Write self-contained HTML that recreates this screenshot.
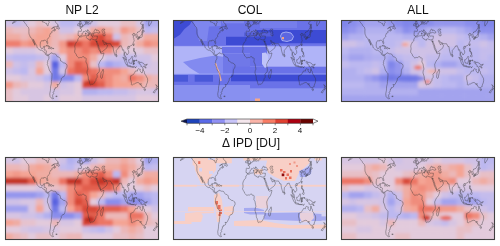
<!DOCTYPE html>
<html><head><meta charset="utf-8"><style>
html,body{margin:0;padding:0;background:#fff;}
body{width:500px;height:246px;position:relative;overflow:hidden;font-family:"Liberation Sans",sans-serif;color:#111;}
.t{position:absolute;width:200px;text-align:center;line-height:1;white-space:nowrap;will-change:transform;}
</style></head><body>
<svg width="500" height="246" viewBox="0 0 500 246" style="position:absolute;left:0;top:0">
<defs><path id="coast" d="M-166.0 -61.0 L-160.0 -58.8 L-157.5 -58.5 L-162.0 -55.5 L-163.5 -55.0 L-159.0 -56.0 L-155.0 -57.5 L-152.5 -59.0 L-151.0 -60.7 L-149.0 -61.0 L-146.0 -61.0 L-143.0 -60.0 L-140.0 -59.8 L-137.0 -58.8 L-135.5 -57.5 L-134.0 -56.0 L-132.0 -54.5 L-130.5 -53.5 L-129.5 -52.0 L-127.5 -50.5 L-125.0 -49.0 L-124.5 -47.5 L-124.0 -46.0 L-124.2 -43.0 L-124.0 -40.5 L-123.5 -39.0 L-122.5 -37.5 L-121.8 -36.5 L-120.6 -34.6 L-118.5 -34.0 L-117.2 -32.7 L-116.5 -31.5 L-115.7 -30.3 L-114.5 -28.0 L-112.5 -27.0 L-111.5 -25.0 L-110.0 -23.0 L-109.5 -23.5 L-110.5 -24.5 L-111.5 -26.5 L-112.8 -28.5 L-114.7 -31.7 L-113.0 -31.2 L-112.0 -29.5 L-110.5 -27.5 L-109.0 -26.0 L-107.5 -24.3 L-105.7 -22.5 L-105.2 -20.3 L-104.0 -19.0 L-102.0 -17.8 L-99.5 -16.6 L-96.5 -15.7 L-94.5 -16.2 L-92.5 -14.7 L-91.0 -13.9 L-89.0 -13.4 L-87.5 -13.0 L-86.0 -11.2 L-85.8 -10.0 L-84.5 -9.5 L-83.5 -8.5 L-82.0 -8.2 L-80.5 -7.4 L-80.0 -8.3 L-78.8 -8.6 L-78.0 -7.8 L-77.5 -6.8 L-77.3 -4.0 L-78.0 -2.6 L-79.0 -1.5 L-80.0 -0.5 L-80.3 1.0 L-80.9 2.5 L-80.3 3.5 L-81.2 5.0 L-80.0 6.5 L-79.0 8.0 L-77.5 11.0 L-76.3 13.5 L-74.5 15.5 L-72.0 17.0 L-70.3 18.5 L-70.2 21.0 L-70.5 24.0 L-70.8 27.0 L-71.5 30.0 L-71.6 33.0 L-72.6 35.5 L-73.4 37.5 L-73.6 40.0 L-73.8 43.0 L-74.6 45.5 L-75.4 48.0 L-75.0 50.5 L-74.3 52.5 L-72.5 53.8 L-70.5 54.6 L-68.0 55.5 L-66.5 55.0 L-68.5 53.0 L-68.4 51.0 L-69.2 50.2 L-67.6 48.5 L-65.8 47.5 L-67.5 46.0 L-66.5 45.0 L-65.2 44.7 L-65.0 42.8 L-64.2 42.4 L-65.0 41.0 L-62.3 40.6 L-62.2 38.9 L-60.0 38.8 L-57.5 38.0 L-56.7 36.5 L-57.3 35.3 L-58.5 34.3 L-56.0 34.9 L-54.0 34.5 L-53.0 33.5 L-51.0 31.0 L-49.8 29.5 L-48.5 28.0 L-48.5 26.0 L-47.0 24.5 L-44.5 23.2 L-42.0 22.9 L-41.0 21.8 L-40.0 20.0 L-39.2 17.5 L-38.9 14.0 L-38.5 12.8 L-37.0 11.0 L-35.2 9.0 L-34.8 7.0 L-35.5 5.2 L-37.5 4.5 L-39.5 3.0 L-41.5 2.9 L-44.0 2.5 L-47.0 0.7 L-50.0 0.0 L-51.0 -3.8 L-52.5 -5.0 L-54.0 -5.7 L-57.0 -6.0 L-58.5 -7.0 L-60.0 -8.5 L-61.6 -10.1 L-64.0 -10.5 L-67.0 -10.6 L-70.0 -11.5 L-71.5 -12.2 L-72.0 -11.2 L-74.0 -11.0 L-75.5 -10.5 L-76.5 -9.0 L-77.4 -8.6 L-79.0 -9.5 L-81.0 -8.9 L-82.3 -9.5 L-83.6 -10.9 L-83.5 -13.0 L-83.3 -15.0 L-85.0 -16.0 L-88.0 -15.8 L-88.4 -17.3 L-88.0 -18.6 L-87.5 -20.5 L-87.0 -21.5 L-88.5 -21.5 L-90.3 -21.0 L-90.5 -19.8 L-91.5 -18.5 L-94.0 -18.2 L-95.7 -18.8 L-97.0 -20.5 L-97.7 -22.0 L-97.7 -24.0 L-97.3 -26.0 L-97.2 -27.7 L-96.0 -28.7 L-94.5 -29.5 L-93.0 -29.7 L-91.0 -29.2 L-89.5 -29.3 L-89.5 -30.2 L-88.0 -30.4 L-86.0 -30.3 L-84.5 -29.8 L-83.2 -29.0 L-82.6 -27.5 L-81.7 -26.0 L-80.9 -25.2 L-80.1 -25.8 L-80.1 -27.0 L-80.6 -28.6 L-81.3 -30.3 L-81.2 -31.5 L-80.0 -32.6 L-78.5 -33.8 L-76.6 -34.8 L-75.5 -35.5 L-76.0 -36.9 L-75.6 -37.8 L-75.0 -38.6 L-74.3 -39.4 L-74.0 -40.5 L-72.5 -40.9 L-70.7 -41.5 L-69.9 -41.7 L-70.6 -42.5 L-70.8 -43.0 L-70.0 -43.8 L-68.0 -44.4 L-67.0 -44.8 L-66.1 -45.2 L-64.5 -45.4 L-65.8 -44.6 L-65.5 -43.6 L-63.5 -44.5 L-61.2 -45.4 L-61.5 -45.8 L-63.0 -45.8 L-64.5 -46.3 L-64.8 -47.5 L-65.3 -48.3 L-64.2 -48.7 L-66.0 -49.2 L-68.5 -48.9 L-71.0 -47.0 L-69.5 -47.5 L-67.0 -49.3 L-64.0 -50.2 L-60.0 -50.2 L-57.3 -51.5 L-55.8 -52.5 L-56.5 -53.7 L-58.0 -54.3 L-60.0 -55.3 L-61.5 -56.4 L-62.0 -57.5 L-63.2 -58.5 L-64.3 -59.6 L-64.8 -61.0 M-94.5 -61.0 L-94.7 -59.3 L-93.0 -58.3 L-92.3 -57.0 L-90.0 -57.0 L-88.0 -56.5 L-85.5 -55.3 L-82.5 -55.0 L-82.2 -53.0 L-80.5 -51.5 L-79.3 -51.6 L-78.8 -52.5 L-79.0 -54.3 L-77.3 -55.7 L-76.6 -56.6 L-77.5 -58.2 L-78.5 -58.8 L-77.4 -60.3 L-77.6 -61.0 M-59.3 -47.6 L-58.4 -49.1 L-57.2 -50.7 L-55.5 -51.6 L-55.7 -50.1 L-53.8 -49.5 L-53.1 -48.1 L-52.7 -47.4 L-53.5 -46.7 L-55.8 -47.0 L-57.3 -47.6 L-59.3 -47.6 M-84.9 -21.9 L-82.5 -22.9 L-80.5 -23.1 L-78.2 -22.3 L-75.7 -21.2 L-74.2 -20.2 L-75.5 -19.9 L-77.7 -19.9 L-77.3 -20.7 L-78.5 -21.5 L-81.0 -21.9 L-82.2 -22.2 L-83.5 -22.0 L-84.9 -21.9 M-74.4 -18.5 L-72.7 -19.9 L-70.5 -19.8 L-69.0 -19.0 L-68.4 -18.5 L-69.5 -18.2 L-71.2 -17.7 L-72.5 -18.2 L-74.4 -18.3 L-74.4 -18.5 M-78.3 -18.4 L-76.3 -18.2 L-76.9 -17.9 L-78.3 -18.2 L-78.3 -18.4 M-67.2 -18.5 L-65.6 -18.4 L-65.9 -18.0 L-67.2 -18.0 L-67.2 -18.5 M-5.6 -35.9 L-6.2 -35.5 L-6.8 -34.0 L-8.0 -33.3 L-9.6 -32.5 L-9.8 -30.0 L-10.5 -29.0 L-13.0 -27.7 L-14.5 -26.0 L-16.0 -24.0 L-16.9 -21.5 L-16.5 -19.5 L-16.2 -18.0 L-16.5 -16.0 L-17.4 -14.7 L-16.8 -13.2 L-16.7 -12.3 L-15.5 -11.5 L-14.6 -10.5 L-13.3 -9.4 L-12.5 -7.6 L-11.0 -6.8 L-9.0 -5.2 L-7.5 -4.4 L-5.0 -5.0 L-3.0 -5.1 L-2.0 -4.7 L0.0 -5.6 L1.5 -6.2 L3.0 -6.4 L4.5 -6.2 L5.5 -4.7 L6.5 -4.3 L7.5 -4.5 L8.5 -4.6 L9.5 -3.8 L9.8 -2.5 L9.5 -1.0 L9.3 0.5 L9.0 1.3 L10.5 3.0 L11.8 4.6 L12.2 6.0 L12.9 8.5 L13.5 10.5 L13.8 12.0 L12.6 13.5 L11.8 16.0 L11.7 17.5 L12.5 19.0 L13.5 21.0 L14.5 23.0 L14.8 26.0 L15.3 27.5 L16.5 28.7 L17.5 31.0 L18.3 32.5 L18.5 34.2 L20.0 34.8 L22.0 34.0 L25.0 34.0 L26.5 33.8 L28.0 32.8 L30.0 31.0 L31.0 29.5 L32.4 28.5 L32.9 26.0 L35.0 24.5 L35.5 23.0 L35.4 21.0 L34.8 19.9 L36.0 18.8 L37.0 17.5 L39.0 16.8 L40.5 15.0 L40.5 11.0 L39.5 8.5 L39.3 6.8 L39.0 5.0 L40.0 3.5 L41.0 2.0 L42.0 0.8 L44.0 -1.5 L46.0 -2.5 L48.0 -4.5 L49.5 -7.0 L50.8 -10.0 L51.3 -11.8 L49.0 -11.3 L47.0 -11.0 L45.0 -10.5 L43.5 -11.6 L43.2 -12.6 L42.5 -14.0 L41.5 -15.0 L40.0 -15.8 L39.0 -17.5 L38.5 -18.0 L37.3 -21.0 L36.8 -22.5 L35.5 -24.0 L35.0 -25.5 L34.0 -27.0 L33.0 -28.5 L32.5 -30.0 L32.5 -29.9 L33.5 -28.2 L34.3 -27.9 L34.8 -29.5 L35.0 -28.0 L36.5 -26.0 L37.5 -24.3 L39.0 -22.0 L39.5 -20.0 L41.0 -18.0 L42.5 -16.0 L43.0 -14.0 L43.5 -12.7 L45.0 -12.8 L48.0 -14.0 L50.0 -15.0 L52.0 -16.0 L55.0 -17.3 L56.8 -18.5 L57.8 -19.5 L58.5 -20.5 L59.8 -22.5 L58.8 -23.6 L57.0 -24.0 L56.3 -26.0 L55.5 -25.4 L54.0 -24.2 L52.0 -24.0 L51.5 -25.5 L51.0 -26.0 L50.0 -26.5 L49.5 -27.5 L48.5 -28.5 L48.0 -30.0 L49.0 -30.3 L50.5 -29.5 L51.5 -27.8 L54.0 -26.6 L56.3 -27.1 L57.5 -25.7 L61.0 -25.2 L64.0 -25.3 L66.5 -25.4 L67.5 -24.0 L68.5 -23.3 L70.0 -22.5 L69.0 -22.3 L70.5 -21.0 L72.5 -21.2 L72.8 -19.0 L73.5 -16.0 L74.5 -13.5 L75.5 -11.5 L76.3 -9.5 L77.5 -8.0 L78.2 -8.8 L79.2 -10.3 L79.8 -11.5 L80.2 -13.5 L80.2 -15.5 L81.2 -16.3 L82.3 -17.0 L84.0 -18.3 L85.5 -19.5 L87.0 -20.8 L87.0 -21.7 L88.5 -21.7 L90.0 -22.0 L91.5 -22.5 L92.3 -20.8 L93.8 -19.0 L94.5 -17.0 L94.2 -16.0 L95.5 -15.8 L97.5 -16.5 L97.8 -14.5 L98.5 -12.5 L98.5 -10.0 L98.3 -8.2 L100.3 -6.5 L100.5 -5.0 L101.3 -2.8 L103.4 -1.3 L104.2 -1.4 L103.5 -4.0 L103.3 -5.5 L102.2 -6.2 L100.8 -7.0 L100.3 -8.3 L99.2 -9.3 L99.3 -11.0 L100.0 -12.5 L100.9 -13.5 L102.0 -12.5 L103.0 -11.0 L104.5 -10.5 L105.0 -8.7 L106.5 -9.5 L107.5 -10.5 L109.0 -11.5 L109.3 -13.0 L108.8 -15.0 L107.0 -17.0 L106.0 -18.5 L106.5 -20.0 L107.5 -21.5 L109.5 -21.5 L110.5 -20.5 L111.0 -21.5 L113.5 -22.2 L114.5 -22.5 L116.5 -23.0 L118.5 -24.5 L119.5 -26.0 L120.0 -27.0 L121.5 -29.0 L122.0 -30.0 L121.0 -31.0 L121.8 -32.0 L120.5 -34.0 L119.3 -35.0 L120.5 -36.2 L122.5 -37.0 L122.3 -37.5 L120.8 -37.8 L119.0 -37.2 L118.0 -38.0 L117.7 -39.0 L119.0 -39.3 L121.3 -40.8 L122.0 -40.5 L121.3 -39.5 L122.0 -39.0 L124.0 -39.8 L125.0 -39.0 L125.3 -37.8 L126.5 -36.5 L126.3 -34.5 L127.5 -34.7 L129.3 -35.3 L129.5 -36.5 L128.5 -38.5 L127.5 -39.8 L129.7 -41.0 L129.8 -42.3 L131.0 -42.8 L133.0 -42.8 L135.5 -43.8 L137.0 -45.2 L138.5 -47.0 L140.3 -48.5 L140.5 -50.5 L141.3 -52.5 L139.5 -54.0 L137.5 -54.0 L136.8 -55.0 L137.5 -56.5 L140.5 -57.7 L142.0 -59.0 L145.0 -59.4 L148.5 -59.3 L151.3 -58.8 L154.0 -59.2 L155.0 -60.0 L155.5 -61.0 M155.7 -61.0 L156.6 -57.8 L156.0 -55.5 L155.6 -54.0 L156.7 -51.0 L158.5 -52.9 L160.0 -54.0 L162.0 -56.0 L163.3 -57.8 L162.0 -58.3 L163.5 -59.8 L166.0 -60.3 L170.0 -60.5 L172.0 -61.0 M-5.6 -36.0 L-6.3 -36.8 L-7.4 -37.2 L-8.9 -37.0 L-8.8 -38.5 L-9.5 -38.8 L-8.8 -41.0 L-8.8 -42.5 L-9.3 -43.0 L-8.0 -43.7 L-5.5 -43.5 L-3.0 -43.4 L-1.8 -43.4 L-1.2 -44.5 L-1.2 -46.0 L-2.2 -47.2 L-4.5 -47.9 L-4.5 -48.6 L-3.0 -48.8 L-1.6 -48.7 L-1.4 -49.7 L0.2 -49.5 L1.5 -50.2 L1.6 -51.0 L3.0 -51.3 L4.0 -51.9 L4.8 -53.0 L7.0 -53.5 L8.5 -53.8 L8.6 -55.0 L8.2 -56.8 L10.5 -57.6 L10.3 -56.5 L10.9 -56.3 L9.8 -55.0 L10.0 -54.5 L11.0 -54.0 L13.0 -54.3 L14.3 -53.8 L16.0 -54.3 L18.5 -54.7 L19.7 -54.4 L21.0 -55.0 L21.0 -56.5 L21.5 -57.3 L22.6 -57.7 L24.2 -57.2 L24.3 -58.3 L23.5 -58.8 L25.0 -59.5 L28.0 -59.5 L29.5 -60.0 L30.0 -61.0 M-5.6 -36.0 L-4.5 -36.7 L-2.0 -36.8 L-0.5 -37.6 L0.2 -38.8 L-0.3 -39.5 L0.9 -41.0 L3.2 -41.9 L3.1 -43.0 L4.5 -43.5 L6.0 -43.1 L7.5 -43.8 L8.8 -44.4 L10.2 -43.9 L10.5 -42.9 L11.2 -42.4 L12.5 -41.6 L13.7 -41.2 L15.5 -40.1 L16.0 -38.5 L15.6 -38.0 L16.1 -37.9 L17.1 -39.0 L16.5 -39.7 L17.2 -40.5 L18.5 -40.2 L18.4 -40.6 L17.0 -41.0 L16.0 -41.9 L15.0 -42.0 L14.0 -42.8 L13.6 -43.6 L12.4 -44.3 L12.3 -45.3 L13.1 -45.7 L13.9 -45.6 L13.6 -45.1 L14.5 -45.2 L15.0 -44.2 L16.5 -43.5 L18.5 -42.4 L19.3 -41.9 L19.5 -40.5 L20.0 -39.6 L21.0 -38.4 L21.7 -36.9 L22.5 -36.5 L23.0 -37.5 L22.7 -38.3 L24.0 -38.0 L23.0 -39.0 L22.6 -40.3 L24.0 -40.7 L26.0 -40.8 L26.5 -40.3 L26.2 -40.0 L26.5 -39.0 L27.0 -38.0 L27.5 -37.0 L28.4 -36.6 L30.0 -36.2 L31.5 -36.6 L33.0 -36.1 L34.8 -36.8 L36.0 -36.6 L35.8 -35.5 L35.9 -34.6 L35.5 -33.5 L35.0 -32.5 L34.5 -31.6 L34.3 -31.3 L32.3 -31.2 L30.0 -31.3 L29.0 -30.8 L25.0 -31.8 L23.0 -32.5 L20.0 -32.0 L19.5 -30.3 L18.0 -30.8 L15.5 -31.5 L15.0 -32.3 L12.0 -32.8 L11.0 -33.5 L10.2 -34.5 L11.0 -35.5 L10.2 -37.2 L9.0 -37.2 L7.0 -37.0 L5.0 -36.8 L3.0 -36.7 L1.0 -36.4 L-1.0 -35.5 L-2.0 -35.2 L-4.5 -35.2 L-5.6 -35.9 M26.5 -40.3 L29.0 -41.0 L31.0 -41.2 L33.0 -41.9 L35.0 -42.0 L36.5 -41.3 L38.0 -40.9 L40.0 -41.0 L41.5 -41.5 L41.7 -42.6 L40.0 -43.4 L38.0 -44.5 L37.5 -45.3 L35.0 -45.0 L33.5 -44.5 L32.5 -45.3 L33.5 -46.0 L31.0 -46.6 L30.7 -46.5 L29.7 -45.3 L28.7 -44.3 L28.0 -43.0 L27.8 -41.9 L28.8 -41.3 L29.0 -41.0 M47.0 -45.5 L46.7 -44.5 L47.5 -43.0 L48.5 -41.8 L49.5 -40.5 L49.0 -38.5 L49.0 -37.6 L50.5 -37.0 L53.8 -36.9 L53.9 -38.9 L53.0 -40.0 L52.8 -41.3 L54.0 -42.3 L52.5 -42.8 L51.3 -43.2 L50.3 -44.5 L51.3 -45.0 L53.0 -45.3 L53.0 -46.5 L51.2 -47.0 L49.5 -46.5 L48.0 -46.5 L47.0 -45.5 M5.0 -61.0 L5.3 -59.5 L6.0 -58.2 L7.5 -58.0 L9.0 -58.8 L10.5 -59.3 L11.2 -58.8 L11.9 -58.0 L12.5 -56.5 L12.9 -55.5 L14.2 -55.4 L14.8 -56.2 L16.0 -56.3 L16.5 -57.5 L16.8 -58.7 L18.5 -59.4 L18.0 -60.2 L17.5 -61.0 M-5.7 -50.0 L-3.5 -50.3 L0.0 -50.8 L1.4 -51.2 L1.7 -52.7 L0.3 -53.4 L-0.5 -54.5 L-1.5 -55.5 L-2.5 -56.0 L-1.8 -57.5 L-4.0 -57.7 L-3.0 -58.6 L-5.0 -58.6 L-6.0 -57.5 L-5.5 -56.5 L-6.0 -55.5 L-5.0 -54.8 L-3.3 -54.9 L-3.0 -53.9 L-3.0 -53.3 L-4.6 -53.3 L-4.2 -52.5 L-5.3 -51.8 L-3.3 -51.4 L-4.2 -51.2 L-5.7 -50.0 M-6.0 -52.2 L-6.0 -53.9 L-5.7 -54.8 L-7.3 -55.3 L-8.5 -54.6 L-10.0 -54.2 L-9.9 -53.0 L-10.3 -51.8 L-9.5 -51.5 L-8.0 -51.7 L-6.4 -52.2 L-6.0 -52.2 M12.4 -38.0 L15.6 -38.2 L15.1 -36.7 L12.4 -37.7 L12.4 -38.0 M8.2 -41.0 L9.6 -41.0 L9.6 -39.1 L8.5 -39.0 L8.2 -41.0 M23.5 -35.3 L26.3 -35.2 L24.0 -35.6 L23.5 -35.3 M130.9 -34.0 L132.0 -35.5 L133.0 -35.6 L135.5 -35.6 L136.0 -36.0 L137.0 -37.0 L138.5 -38.0 L139.8 -39.5 L140.0 -40.5 L141.3 -41.3 L141.5 -40.5 L142.0 -39.5 L141.0 -38.3 L140.9 -37.0 L140.6 -36.0 L140.9 -35.7 L139.8 -35.2 L139.2 -34.9 L138.8 -34.6 L137.0 -34.6 L136.8 -34.3 L135.8 -33.5 L135.2 -34.3 L133.5 -34.3 L131.0 -33.9 L130.9 -34.0 M130.0 -33.5 L131.7 -33.5 L131.5 -31.5 L130.7 -31.0 L130.2 -31.8 L129.7 -33.2 L130.0 -33.5 M132.5 -33.8 L134.7 -34.2 L134.2 -33.2 L133.0 -32.8 L132.5 -33.8 M140.0 -41.5 L140.5 -42.5 L140.0 -43.3 L141.5 -43.3 L141.7 -45.4 L143.0 -44.5 L145.3 -44.3 L145.5 -43.2 L144.0 -43.0 L143.3 -42.0 L141.5 -42.5 L140.9 -41.8 L140.0 -41.5 M142.0 -46.0 L143.5 -46.5 L142.9 -49.0 L144.0 -49.0 L143.3 -51.0 L143.0 -53.5 L142.5 -54.3 L142.0 -52.0 L141.8 -49.0 L142.0 -46.0 M120.1 -23.0 L120.8 -21.9 L121.7 -24.5 L121.5 -25.3 L120.1 -23.0 M108.7 -19.3 L110.4 -20.1 L111.0 -19.6 L109.6 -18.2 L108.7 -18.5 L108.7 -19.3 M120.6 -18.5 L122.2 -18.5 L122.3 -16.5 L121.6 -15.8 L122.0 -14.0 L124.0 -13.8 L124.0 -12.5 L123.2 -13.2 L121.8 -13.8 L120.6 -14.2 L120.9 -15.5 L120.3 -16.0 L120.6 -18.5 M122.0 -7.0 L123.5 -8.5 L125.5 -9.7 L126.5 -7.5 L126.0 -6.2 L125.3 -5.6 L124.0 -6.5 L122.0 -7.0 M124.3 -12.5 L125.8 -11.8 L125.0 -10.0 L124.3 -10.5 L124.3 -12.5 M109.0 -1.8 L109.6 -2.0 L111.0 -1.6 L113.0 -3.1 L115.5 -5.2 L116.7 -6.9 L117.6 -6.2 L119.2 -5.3 L118.0 -4.3 L117.7 -3.0 L118.9 -1.0 L117.9 -0.8 L117.5 0.5 L116.5 2.5 L116.0 3.6 L114.6 3.8 L113.0 3.1 L111.6 3.0 L110.2 2.9 L110.0 1.5 L109.2 0.5 L109.0 -1.8 M95.3 -5.6 L97.5 -5.2 L98.7 -3.8 L100.4 -2.2 L101.4 -1.8 L103.7 -0.2 L104.5 1.0 L106.0 3.0 L105.8 5.8 L104.5 5.9 L102.3 4.0 L101.0 2.2 L100.0 0.5 L98.7 -1.7 L97.3 -3.2 L96.2 -4.5 L95.3 -5.6 M105.2 6.8 L106.2 6.0 L108.3 6.3 L110.5 6.9 L112.6 6.9 L114.6 7.7 L114.4 8.7 L112.0 8.3 L110.0 8.0 L108.0 7.8 L106.4 7.4 L105.2 6.8 M115.0 8.3 L116.5 8.6 L119.0 8.5 L121.0 8.6 L123.0 8.4 L121.0 8.9 L118.0 8.9 L116.0 8.9 L115.0 8.3 M124.0 10.2 L125.2 9.0 L127.2 8.4 L125.0 9.7 L124.0 10.2 M119.5 5.5 L120.3 5.5 L120.4 2.9 L121.1 2.7 L121.5 4.6 L122.5 4.5 L122.8 3.6 L121.3 1.9 L121.9 1.0 L123.3 0.9 L122.4 0.7 L120.8 1.3 L120.2 -0.5 L120.9 -1.3 L123.0 -0.9 L124.4 -0.9 L125.2 -1.5 L124.5 -0.4 L121.5 -0.4 L120.1 -0.3 L119.6 0.2 L119.8 3.5 L119.5 5.5 M127.5 -1.8 L128.0 -0.5 L128.7 0.5 L127.8 0.0 L127.5 -1.8 M131.0 1.5 L132.5 0.4 L134.0 0.8 L135.0 3.3 L137.5 1.5 L141.0 2.6 L144.5 3.8 L146.0 5.5 L147.5 6.2 L147.2 7.4 L148.8 9.0 L150.0 10.3 L147.5 10.1 L146.0 8.1 L144.0 7.6 L142.6 9.3 L141.0 9.1 L139.0 8.2 L138.0 8.4 L137.8 6.0 L135.5 4.5 L133.5 4.0 L132.0 2.9 L131.0 1.5 M148.5 5.5 L150.5 5.5 L152.0 4.2 L152.2 5.5 L150.5 6.3 L148.5 5.8 L148.5 5.5 M113.5 22.0 L114.0 21.8 L114.2 22.5 L113.5 24.5 L113.5 26.5 L114.5 28.5 L115.0 30.5 L115.7 32.5 L115.0 34.3 L116.5 35.0 L118.0 35.0 L120.0 33.9 L122.0 33.8 L124.0 33.0 L126.0 32.3 L129.0 31.6 L131.0 31.5 L133.5 32.2 L135.0 33.5 L136.0 34.8 L137.5 33.2 L137.8 32.7 L137.7 35.5 L139.0 35.6 L140.0 37.5 L141.5 38.3 L143.5 38.8 L145.0 38.3 L146.3 39.0 L148.0 37.8 L150.0 37.5 L150.2 35.5 L151.2 33.8 L152.5 32.0 L153.5 28.5 L153.2 26.0 L152.8 25.0 L151.0 23.5 L150.2 22.3 L148.8 20.5 L146.5 19.0 L146.0 17.0 L145.3 15.0 L144.0 14.5 L143.5 12.8 L142.5 10.8 L141.8 12.5 L141.5 15.0 L140.8 17.4 L139.5 17.5 L137.8 16.0 L136.0 15.0 L135.5 14.5 L136.5 12.2 L135.0 12.2 L133.0 11.5 L131.5 11.3 L130.2 12.5 L129.5 14.8 L128.0 14.8 L126.5 14.0 L125.0 14.6 L123.5 16.5 L122.2 17.5 L121.8 18.6 L119.5 20.0 L117.5 20.6 L116.0 21.0 L114.5 21.8 L113.5 22.0 M144.7 40.7 L148.3 40.9 L148.0 43.0 L146.8 43.6 L145.3 42.3 L144.7 40.7 M172.7 34.5 L174.5 36.0 L175.8 37.0 L178.5 37.7 L177.9 39.2 L176.8 40.0 L175.2 41.6 L174.6 41.2 L175.0 39.8 L173.8 39.2 L174.6 37.5 L173.0 35.0 L172.7 34.5 M172.7 40.5 L174.3 41.3 L173.8 42.3 L172.8 43.3 L171.2 44.5 L170.7 45.9 L169.0 46.6 L166.5 46.0 L167.0 45.0 L168.3 44.0 L170.6 42.8 L171.5 41.7 L172.2 40.8 L172.7 40.5 M49.3 12.0 L50.5 15.5 L49.8 17.0 L48.5 20.5 L47.5 24.0 L47.0 25.0 L45.2 25.5 L44.0 24.5 L43.3 22.0 L44.3 20.5 L44.0 17.5 L46.0 15.8 L47.8 14.2 L48.8 12.5 L49.3 12.0 M79.8 -6.2 L80.3 -9.8 L81.8 -7.5 L81.3 -6.2 L80.1 -6.0 L79.8 -6.2 M-61.3 51.3 L-58.0 51.3 L-58.5 52.2 L-61.0 52.0 L-61.3 51.3" fill="none" stroke="#333" stroke-width="0.5" stroke-opacity="0.8" vector-effect="non-scaling-stroke" stroke-linejoin="round"/></defs>
<clipPath id="cA"><rect x="5" y="20" width="154" height="82"/></clipPath>
<g clip-path="url(#cA)"><g filter="url(#fA)">
<rect x="-2.70" y="13.17" width="8.30" height="7.43" fill="#cfc1e6"/>
<rect x="5.00" y="13.17" width="8.30" height="7.43" fill="#cfc1e6"/>
<rect x="12.70" y="13.17" width="8.30" height="7.43" fill="#c4bcec"/>
<rect x="20.40" y="13.17" width="8.30" height="7.43" fill="#cfc1e6"/>
<rect x="28.10" y="13.17" width="8.30" height="7.43" fill="#e2cadc"/>
<rect x="35.80" y="13.17" width="8.30" height="7.43" fill="#e7bfc6"/>
<rect x="43.50" y="13.17" width="8.30" height="7.43" fill="#e2cadc"/>
<rect x="51.20" y="13.17" width="8.30" height="7.43" fill="#d7c5e2"/>
<rect x="58.90" y="13.17" width="8.30" height="7.43" fill="#bcb8f0"/>
<rect x="66.60" y="13.17" width="8.30" height="7.43" fill="#bcb8f0"/>
<rect x="74.30" y="13.17" width="8.30" height="7.43" fill="#c4bcec"/>
<rect x="82.00" y="13.17" width="8.30" height="7.43" fill="#b2b0ef"/>
<rect x="89.70" y="13.17" width="8.30" height="7.43" fill="#cfc1e6"/>
<rect x="97.40" y="13.17" width="8.30" height="7.43" fill="#e2cadc"/>
<rect x="105.10" y="13.17" width="8.30" height="7.43" fill="#e2cadc"/>
<rect x="112.80" y="13.17" width="8.30" height="7.43" fill="#e2cadc"/>
<rect x="120.50" y="13.17" width="8.30" height="7.43" fill="#e7bfc6"/>
<rect x="128.20" y="13.17" width="8.30" height="7.43" fill="#e7bfc6"/>
<rect x="135.90" y="13.17" width="8.30" height="7.43" fill="#d7c5e2"/>
<rect x="143.60" y="13.17" width="8.30" height="7.43" fill="#a3a3ee"/>
<rect x="151.30" y="13.17" width="8.30" height="7.43" fill="#b2b0ef"/>
<rect x="159.00" y="13.17" width="8.30" height="7.43" fill="#b2b0ef"/>
<rect x="-2.70" y="20.00" width="8.30" height="7.43" fill="#cfc1e6"/>
<rect x="5.00" y="20.00" width="8.30" height="7.43" fill="#cfc1e6"/>
<rect x="12.70" y="20.00" width="8.30" height="7.43" fill="#c4bcec"/>
<rect x="20.40" y="20.00" width="8.30" height="7.43" fill="#cfc1e6"/>
<rect x="28.10" y="20.00" width="8.30" height="7.43" fill="#e2cadc"/>
<rect x="35.80" y="20.00" width="8.30" height="7.43" fill="#e7bfc6"/>
<rect x="43.50" y="20.00" width="8.30" height="7.43" fill="#e2cadc"/>
<rect x="51.20" y="20.00" width="8.30" height="7.43" fill="#d7c5e2"/>
<rect x="58.90" y="20.00" width="8.30" height="7.43" fill="#bcb8f0"/>
<rect x="66.60" y="20.00" width="8.30" height="7.43" fill="#bcb8f0"/>
<rect x="74.30" y="20.00" width="8.30" height="7.43" fill="#c4bcec"/>
<rect x="82.00" y="20.00" width="8.30" height="7.43" fill="#b2b0ef"/>
<rect x="89.70" y="20.00" width="8.30" height="7.43" fill="#cfc1e6"/>
<rect x="97.40" y="20.00" width="8.30" height="7.43" fill="#e2cadc"/>
<rect x="105.10" y="20.00" width="8.30" height="7.43" fill="#e2cadc"/>
<rect x="112.80" y="20.00" width="8.30" height="7.43" fill="#e2cadc"/>
<rect x="120.50" y="20.00" width="8.30" height="7.43" fill="#e7bfc6"/>
<rect x="128.20" y="20.00" width="8.30" height="7.43" fill="#e7bfc6"/>
<rect x="135.90" y="20.00" width="8.30" height="7.43" fill="#d7c5e2"/>
<rect x="143.60" y="20.00" width="8.30" height="7.43" fill="#a3a3ee"/>
<rect x="151.30" y="20.00" width="8.30" height="7.43" fill="#b2b0ef"/>
<rect x="159.00" y="20.00" width="8.30" height="7.43" fill="#b2b0ef"/>
<rect x="-2.70" y="26.83" width="8.30" height="7.43" fill="#ebb7b8"/>
<rect x="5.00" y="26.83" width="8.30" height="7.43" fill="#ebb7b8"/>
<rect x="12.70" y="26.83" width="8.30" height="7.43" fill="#e7bfc6"/>
<rect x="20.40" y="26.83" width="8.30" height="7.43" fill="#e7bfc6"/>
<rect x="28.10" y="26.83" width="8.30" height="7.43" fill="#ebb7b8"/>
<rect x="35.80" y="26.83" width="8.30" height="7.43" fill="#f0aca2"/>
<rect x="43.50" y="26.83" width="8.30" height="7.43" fill="#f4a494"/>
<rect x="51.20" y="26.83" width="8.30" height="7.43" fill="#ebb7b8"/>
<rect x="58.90" y="26.83" width="8.30" height="7.43" fill="#cfc1e6"/>
<rect x="66.60" y="26.83" width="8.30" height="7.43" fill="#cfc1e6"/>
<rect x="74.30" y="26.83" width="8.30" height="7.43" fill="#e2cadc"/>
<rect x="82.00" y="26.83" width="8.30" height="7.43" fill="#e2cadc"/>
<rect x="89.70" y="26.83" width="8.30" height="7.43" fill="#f0aca2"/>
<rect x="97.40" y="26.83" width="8.30" height="7.43" fill="#f29a8a"/>
<rect x="105.10" y="26.83" width="8.30" height="7.43" fill="#f0aca2"/>
<rect x="112.80" y="26.83" width="8.30" height="7.43" fill="#e7bfc6"/>
<rect x="120.50" y="26.83" width="8.30" height="7.43" fill="#f29a8a"/>
<rect x="128.20" y="26.83" width="8.30" height="7.43" fill="#f0aca2"/>
<rect x="135.90" y="26.83" width="8.30" height="7.43" fill="#e7bfc6"/>
<rect x="143.60" y="26.83" width="8.30" height="7.43" fill="#bcb8f0"/>
<rect x="151.30" y="26.83" width="8.30" height="7.43" fill="#c4bcec"/>
<rect x="159.00" y="26.83" width="8.30" height="7.43" fill="#c4bcec"/>
<rect x="-2.70" y="33.67" width="8.30" height="7.43" fill="#f0aca2"/>
<rect x="5.00" y="33.67" width="8.30" height="7.43" fill="#f0aca2"/>
<rect x="12.70" y="33.67" width="8.30" height="7.43" fill="#f0aca2"/>
<rect x="20.40" y="33.67" width="8.30" height="7.43" fill="#ebb7b8"/>
<rect x="28.10" y="33.67" width="8.30" height="7.43" fill="#f0aca2"/>
<rect x="35.80" y="33.67" width="8.30" height="7.43" fill="#f4a494"/>
<rect x="43.50" y="33.67" width="8.30" height="7.43" fill="#f4a494"/>
<rect x="51.20" y="33.67" width="8.30" height="7.43" fill="#ebb7b8"/>
<rect x="58.90" y="33.67" width="8.30" height="7.43" fill="#e7bfc6"/>
<rect x="66.60" y="33.67" width="8.30" height="7.43" fill="#ebb7b8"/>
<rect x="74.30" y="33.67" width="8.30" height="7.43" fill="#f4a494"/>
<rect x="82.00" y="33.67" width="8.30" height="7.43" fill="#f29a8a"/>
<rect x="89.70" y="33.67" width="8.30" height="7.43" fill="#e25e4e"/>
<rect x="97.40" y="33.67" width="8.30" height="7.43" fill="#d84838"/>
<rect x="105.10" y="33.67" width="8.30" height="7.43" fill="#ec7464"/>
<rect x="112.80" y="33.67" width="8.30" height="7.43" fill="#cfc1e6"/>
<rect x="120.50" y="33.67" width="8.30" height="7.43" fill="#ebb7b8"/>
<rect x="128.20" y="33.67" width="8.30" height="7.43" fill="#e7bfc6"/>
<rect x="135.90" y="33.67" width="8.30" height="7.43" fill="#e7bfc6"/>
<rect x="143.60" y="33.67" width="8.30" height="7.43" fill="#f0aca2"/>
<rect x="151.30" y="33.67" width="8.30" height="7.43" fill="#f0aca2"/>
<rect x="159.00" y="33.67" width="8.30" height="7.43" fill="#f0aca2"/>
<rect x="-2.70" y="40.50" width="8.30" height="7.43" fill="#ee7e6e"/>
<rect x="5.00" y="40.50" width="8.30" height="7.43" fill="#ee7e6e"/>
<rect x="12.70" y="40.50" width="8.30" height="7.43" fill="#ee7e6e"/>
<rect x="20.40" y="40.50" width="8.30" height="7.43" fill="#f29a8a"/>
<rect x="28.10" y="40.50" width="8.30" height="7.43" fill="#f08c7c"/>
<rect x="35.80" y="40.50" width="8.30" height="7.43" fill="#f4a494"/>
<rect x="43.50" y="40.50" width="8.30" height="7.43" fill="#f0aca2"/>
<rect x="51.20" y="40.50" width="8.30" height="7.43" fill="#ebb7b8"/>
<rect x="58.90" y="40.50" width="8.30" height="7.43" fill="#f29a8a"/>
<rect x="66.60" y="40.50" width="8.30" height="7.43" fill="#d04032"/>
<rect x="74.30" y="40.50" width="8.30" height="7.43" fill="#dc5141"/>
<rect x="82.00" y="40.50" width="8.30" height="7.43" fill="#ec7464"/>
<rect x="89.70" y="40.50" width="8.30" height="7.43" fill="#d84838"/>
<rect x="97.40" y="40.50" width="8.30" height="7.43" fill="#d04032"/>
<rect x="105.10" y="40.50" width="8.30" height="7.43" fill="#d04032"/>
<rect x="112.80" y="40.50" width="8.30" height="7.43" fill="#d84838"/>
<rect x="120.50" y="40.50" width="8.30" height="7.43" fill="#ebb7b8"/>
<rect x="128.20" y="40.50" width="8.30" height="7.43" fill="#e7bfc6"/>
<rect x="135.90" y="40.50" width="8.30" height="7.43" fill="#f0aca2"/>
<rect x="143.60" y="40.50" width="8.30" height="7.43" fill="#f08c7c"/>
<rect x="151.30" y="40.50" width="8.30" height="7.43" fill="#f29a8a"/>
<rect x="159.00" y="40.50" width="8.30" height="7.43" fill="#f29a8a"/>
<rect x="-2.70" y="47.33" width="8.30" height="7.43" fill="#e2cadc"/>
<rect x="5.00" y="47.33" width="8.30" height="7.43" fill="#e2cadc"/>
<rect x="12.70" y="47.33" width="8.30" height="7.43" fill="#d7c5e2"/>
<rect x="20.40" y="47.33" width="8.30" height="7.43" fill="#d7c5e2"/>
<rect x="28.10" y="47.33" width="8.30" height="7.43" fill="#d7c5e2"/>
<rect x="35.80" y="47.33" width="8.30" height="7.43" fill="#e2cadc"/>
<rect x="43.50" y="47.33" width="8.30" height="7.43" fill="#e7bfc6"/>
<rect x="51.20" y="47.33" width="8.30" height="7.43" fill="#e7bfc6"/>
<rect x="58.90" y="47.33" width="8.30" height="7.43" fill="#f4a494"/>
<rect x="66.60" y="47.33" width="8.30" height="7.43" fill="#f08c7c"/>
<rect x="74.30" y="47.33" width="8.30" height="7.43" fill="#f08c7c"/>
<rect x="82.00" y="47.33" width="8.30" height="7.43" fill="#ec7464"/>
<rect x="89.70" y="47.33" width="8.30" height="7.43" fill="#f08c7c"/>
<rect x="97.40" y="47.33" width="8.30" height="7.43" fill="#ee7e6e"/>
<rect x="105.10" y="47.33" width="8.30" height="7.43" fill="#f08c7c"/>
<rect x="112.80" y="47.33" width="8.30" height="7.43" fill="#ebb7b8"/>
<rect x="120.50" y="47.33" width="8.30" height="7.43" fill="#e2cadc"/>
<rect x="128.20" y="47.33" width="8.30" height="7.43" fill="#e2cadc"/>
<rect x="135.90" y="47.33" width="8.30" height="7.43" fill="#e2cadc"/>
<rect x="143.60" y="47.33" width="8.30" height="7.43" fill="#e7bfc6"/>
<rect x="151.30" y="47.33" width="8.30" height="7.43" fill="#e7bfc6"/>
<rect x="159.00" y="47.33" width="8.30" height="7.43" fill="#e7bfc6"/>
<rect x="-2.70" y="54.17" width="8.30" height="7.43" fill="#c4bcec"/>
<rect x="5.00" y="54.17" width="8.30" height="7.43" fill="#c4bcec"/>
<rect x="12.70" y="54.17" width="8.30" height="7.43" fill="#bcb8f0"/>
<rect x="20.40" y="54.17" width="8.30" height="7.43" fill="#bcb8f0"/>
<rect x="28.10" y="54.17" width="8.30" height="7.43" fill="#bcb8f0"/>
<rect x="35.80" y="54.17" width="8.30" height="7.43" fill="#c4bcec"/>
<rect x="43.50" y="54.17" width="8.30" height="7.43" fill="#cfc1e6"/>
<rect x="51.20" y="54.17" width="8.30" height="7.43" fill="#a3a3ee"/>
<rect x="58.90" y="54.17" width="8.30" height="7.43" fill="#e2cadc"/>
<rect x="66.60" y="54.17" width="8.30" height="7.43" fill="#f08c7c"/>
<rect x="74.30" y="54.17" width="8.30" height="7.43" fill="#f08c7c"/>
<rect x="82.00" y="54.17" width="8.30" height="7.43" fill="#f08c7c"/>
<rect x="89.70" y="54.17" width="8.30" height="7.43" fill="#f0aca2"/>
<rect x="97.40" y="54.17" width="8.30" height="7.43" fill="#e2cadc"/>
<rect x="105.10" y="54.17" width="8.30" height="7.43" fill="#cfc1e6"/>
<rect x="112.80" y="54.17" width="8.30" height="7.43" fill="#cfc1e6"/>
<rect x="120.50" y="54.17" width="8.30" height="7.43" fill="#c4bcec"/>
<rect x="128.20" y="54.17" width="8.30" height="7.43" fill="#c4bcec"/>
<rect x="135.90" y="54.17" width="8.30" height="7.43" fill="#cfc1e6"/>
<rect x="143.60" y="54.17" width="8.30" height="7.43" fill="#cfc1e6"/>
<rect x="151.30" y="54.17" width="8.30" height="7.43" fill="#e2cadc"/>
<rect x="159.00" y="54.17" width="8.30" height="7.43" fill="#e2cadc"/>
<rect x="-2.70" y="61.00" width="8.30" height="7.43" fill="#ebb7b8"/>
<rect x="5.00" y="61.00" width="8.30" height="7.43" fill="#ebb7b8"/>
<rect x="12.70" y="61.00" width="8.30" height="7.43" fill="#cfc1e6"/>
<rect x="20.40" y="61.00" width="8.30" height="7.43" fill="#c4bcec"/>
<rect x="28.10" y="61.00" width="8.30" height="7.43" fill="#cfc1e6"/>
<rect x="35.80" y="61.00" width="8.30" height="7.43" fill="#ebb7b8"/>
<rect x="43.50" y="61.00" width="8.30" height="7.43" fill="#e2cadc"/>
<rect x="51.20" y="61.00" width="8.30" height="7.43" fill="#5a64e0"/>
<rect x="58.90" y="61.00" width="8.30" height="7.43" fill="#bcb8f0"/>
<rect x="66.60" y="61.00" width="8.30" height="7.43" fill="#f08c7c"/>
<rect x="74.30" y="61.00" width="8.30" height="7.43" fill="#e25e4e"/>
<rect x="82.00" y="61.00" width="8.30" height="7.43" fill="#ec7464"/>
<rect x="89.70" y="61.00" width="8.30" height="7.43" fill="#e7bfc6"/>
<rect x="97.40" y="61.00" width="8.30" height="7.43" fill="#bcb8f0"/>
<rect x="105.10" y="61.00" width="8.30" height="7.43" fill="#a3a3ee"/>
<rect x="112.80" y="61.00" width="8.30" height="7.43" fill="#b2b0ef"/>
<rect x="120.50" y="61.00" width="8.30" height="7.43" fill="#bcb8f0"/>
<rect x="128.20" y="61.00" width="8.30" height="7.43" fill="#bcb8f0"/>
<rect x="135.90" y="61.00" width="8.30" height="7.43" fill="#bcb8f0"/>
<rect x="143.60" y="61.00" width="8.30" height="7.43" fill="#cfc1e6"/>
<rect x="151.30" y="61.00" width="8.30" height="7.43" fill="#d7c5e2"/>
<rect x="159.00" y="61.00" width="8.30" height="7.43" fill="#d7c5e2"/>
<rect x="-2.70" y="67.83" width="8.30" height="7.43" fill="#cfc1e6"/>
<rect x="5.00" y="67.83" width="8.30" height="7.43" fill="#cfc1e6"/>
<rect x="12.70" y="67.83" width="8.30" height="7.43" fill="#c4bcec"/>
<rect x="20.40" y="67.83" width="8.30" height="7.43" fill="#bcb8f0"/>
<rect x="28.10" y="67.83" width="8.30" height="7.43" fill="#d7c5e2"/>
<rect x="35.80" y="67.83" width="8.30" height="7.43" fill="#f4a494"/>
<rect x="43.50" y="67.83" width="8.30" height="7.43" fill="#e2cadc"/>
<rect x="51.20" y="67.83" width="8.30" height="7.43" fill="#7279e6"/>
<rect x="58.90" y="67.83" width="8.30" height="7.43" fill="#cfc1e6"/>
<rect x="66.60" y="67.83" width="8.30" height="7.43" fill="#ec7464"/>
<rect x="74.30" y="67.83" width="8.30" height="7.43" fill="#e25e4e"/>
<rect x="82.00" y="67.83" width="8.30" height="7.43" fill="#e25e4e"/>
<rect x="89.70" y="67.83" width="8.30" height="7.43" fill="#ec7464"/>
<rect x="97.40" y="67.83" width="8.30" height="7.43" fill="#f08c7c"/>
<rect x="105.10" y="67.83" width="8.30" height="7.43" fill="#f08c7c"/>
<rect x="112.80" y="67.83" width="8.30" height="7.43" fill="#f08c7c"/>
<rect x="120.50" y="67.83" width="8.30" height="7.43" fill="#f4a494"/>
<rect x="128.20" y="67.83" width="8.30" height="7.43" fill="#ebb7b8"/>
<rect x="135.90" y="67.83" width="8.30" height="7.43" fill="#e2cadc"/>
<rect x="143.60" y="67.83" width="8.30" height="7.43" fill="#d7c5e2"/>
<rect x="151.30" y="67.83" width="8.30" height="7.43" fill="#d7c5e2"/>
<rect x="159.00" y="67.83" width="8.30" height="7.43" fill="#d7c5e2"/>
<rect x="-2.70" y="74.67" width="8.30" height="7.43" fill="#e2cadc"/>
<rect x="5.00" y="74.67" width="8.30" height="7.43" fill="#e2cadc"/>
<rect x="12.70" y="74.67" width="8.30" height="7.43" fill="#e2cadc"/>
<rect x="20.40" y="74.67" width="8.30" height="7.43" fill="#d7c5e2"/>
<rect x="28.10" y="74.67" width="8.30" height="7.43" fill="#d7c5e2"/>
<rect x="35.80" y="74.67" width="8.30" height="7.43" fill="#cfc1e6"/>
<rect x="43.50" y="74.67" width="8.30" height="7.43" fill="#bcb8f0"/>
<rect x="51.20" y="74.67" width="8.30" height="7.43" fill="#7279e6"/>
<rect x="58.90" y="74.67" width="8.30" height="7.43" fill="#8a8eec"/>
<rect x="66.60" y="74.67" width="8.30" height="7.43" fill="#8a8eec"/>
<rect x="74.30" y="74.67" width="8.30" height="7.43" fill="#bcb8f0"/>
<rect x="82.00" y="74.67" width="8.30" height="7.43" fill="#f08c7c"/>
<rect x="89.70" y="74.67" width="8.30" height="7.43" fill="#e25e4e"/>
<rect x="97.40" y="74.67" width="8.30" height="7.43" fill="#ec7464"/>
<rect x="105.10" y="74.67" width="8.30" height="7.43" fill="#f08c7c"/>
<rect x="112.80" y="74.67" width="8.30" height="7.43" fill="#f4a494"/>
<rect x="120.50" y="74.67" width="8.30" height="7.43" fill="#f0aca2"/>
<rect x="128.20" y="74.67" width="8.30" height="7.43" fill="#ec7464"/>
<rect x="135.90" y="74.67" width="8.30" height="7.43" fill="#f08c7c"/>
<rect x="143.60" y="74.67" width="8.30" height="7.43" fill="#f0aca2"/>
<rect x="151.30" y="74.67" width="8.30" height="7.43" fill="#ebb7b8"/>
<rect x="159.00" y="74.67" width="8.30" height="7.43" fill="#ebb7b8"/>
<rect x="-2.70" y="81.50" width="8.30" height="7.43" fill="#f29a8a"/>
<rect x="5.00" y="81.50" width="8.30" height="7.43" fill="#f29a8a"/>
<rect x="12.70" y="81.50" width="8.30" height="7.43" fill="#ebb7b8"/>
<rect x="20.40" y="81.50" width="8.30" height="7.43" fill="#e7bfc6"/>
<rect x="28.10" y="81.50" width="8.30" height="7.43" fill="#e2cadc"/>
<rect x="35.80" y="81.50" width="8.30" height="7.43" fill="#e2cadc"/>
<rect x="43.50" y="81.50" width="8.30" height="7.43" fill="#d7c5e2"/>
<rect x="51.20" y="81.50" width="8.30" height="7.43" fill="#f0aca2"/>
<rect x="58.90" y="81.50" width="8.30" height="7.43" fill="#cfc1e6"/>
<rect x="66.60" y="81.50" width="8.30" height="7.43" fill="#d7c5e2"/>
<rect x="74.30" y="81.50" width="8.30" height="7.43" fill="#e2cadc"/>
<rect x="82.00" y="81.50" width="8.30" height="7.43" fill="#d84838"/>
<rect x="89.70" y="81.50" width="8.30" height="7.43" fill="#d84838"/>
<rect x="97.40" y="81.50" width="8.30" height="7.43" fill="#e25e4e"/>
<rect x="105.10" y="81.50" width="8.30" height="7.43" fill="#f08c7c"/>
<rect x="112.80" y="81.50" width="8.30" height="7.43" fill="#f4a494"/>
<rect x="120.50" y="81.50" width="8.30" height="7.43" fill="#f4a494"/>
<rect x="128.20" y="81.50" width="8.30" height="7.43" fill="#f4a494"/>
<rect x="135.90" y="81.50" width="8.30" height="7.43" fill="#f0aca2"/>
<rect x="143.60" y="81.50" width="8.30" height="7.43" fill="#ebb7b8"/>
<rect x="151.30" y="81.50" width="8.30" height="7.43" fill="#ebb7b8"/>
<rect x="159.00" y="81.50" width="8.30" height="7.43" fill="#ebb7b8"/>
<rect x="-2.70" y="88.33" width="8.30" height="7.43" fill="#e7bfc6"/>
<rect x="5.00" y="88.33" width="8.30" height="7.43" fill="#e7bfc6"/>
<rect x="12.70" y="88.33" width="8.30" height="7.43" fill="#e2cadc"/>
<rect x="20.40" y="88.33" width="8.30" height="7.43" fill="#d7c5e2"/>
<rect x="28.10" y="88.33" width="8.30" height="7.43" fill="#d7c5e2"/>
<rect x="35.80" y="88.33" width="8.30" height="7.43" fill="#d7c5e2"/>
<rect x="43.50" y="88.33" width="8.30" height="7.43" fill="#d7c5e2"/>
<rect x="51.20" y="88.33" width="8.30" height="7.43" fill="#cfc1e6"/>
<rect x="58.90" y="88.33" width="8.30" height="7.43" fill="#d7c5e2"/>
<rect x="66.60" y="88.33" width="8.30" height="7.43" fill="#d7c5e2"/>
<rect x="74.30" y="88.33" width="8.30" height="7.43" fill="#e2cadc"/>
<rect x="82.00" y="88.33" width="8.30" height="7.43" fill="#b2b0ef"/>
<rect x="89.70" y="88.33" width="8.30" height="7.43" fill="#b2b0ef"/>
<rect x="97.40" y="88.33" width="8.30" height="7.43" fill="#bcb8f0"/>
<rect x="105.10" y="88.33" width="8.30" height="7.43" fill="#bcb8f0"/>
<rect x="112.80" y="88.33" width="8.30" height="7.43" fill="#c4bcec"/>
<rect x="120.50" y="88.33" width="8.30" height="7.43" fill="#c4bcec"/>
<rect x="128.20" y="88.33" width="8.30" height="7.43" fill="#cfc1e6"/>
<rect x="135.90" y="88.33" width="8.30" height="7.43" fill="#d7c5e2"/>
<rect x="143.60" y="88.33" width="8.30" height="7.43" fill="#d7c5e2"/>
<rect x="151.30" y="88.33" width="8.30" height="7.43" fill="#cfc1e6"/>
<rect x="159.00" y="88.33" width="8.30" height="7.43" fill="#cfc1e6"/>
<rect x="-2.70" y="95.17" width="8.30" height="7.43" fill="#e7bfc6"/>
<rect x="5.00" y="95.17" width="8.30" height="7.43" fill="#e7bfc6"/>
<rect x="12.70" y="95.17" width="8.30" height="7.43" fill="#e2cadc"/>
<rect x="20.40" y="95.17" width="8.30" height="7.43" fill="#e2cadc"/>
<rect x="28.10" y="95.17" width="8.30" height="7.43" fill="#d7c5e2"/>
<rect x="35.80" y="95.17" width="8.30" height="7.43" fill="#d7c5e2"/>
<rect x="43.50" y="95.17" width="8.30" height="7.43" fill="#e2cadc"/>
<rect x="51.20" y="95.17" width="8.30" height="7.43" fill="#cfc1e6"/>
<rect x="58.90" y="95.17" width="8.30" height="7.43" fill="#e2cadc"/>
<rect x="66.60" y="95.17" width="8.30" height="7.43" fill="#e2cadc"/>
<rect x="74.30" y="95.17" width="8.30" height="7.43" fill="#e2cadc"/>
<rect x="82.00" y="95.17" width="8.30" height="7.43" fill="#d7c5e2"/>
<rect x="89.70" y="95.17" width="8.30" height="7.43" fill="#d7c5e2"/>
<rect x="97.40" y="95.17" width="8.30" height="7.43" fill="#d7c5e2"/>
<rect x="105.10" y="95.17" width="8.30" height="7.43" fill="#d7c5e2"/>
<rect x="112.80" y="95.17" width="8.30" height="7.43" fill="#d7c5e2"/>
<rect x="120.50" y="95.17" width="8.30" height="7.43" fill="#d7c5e2"/>
<rect x="128.20" y="95.17" width="8.30" height="7.43" fill="#d7c5e2"/>
<rect x="135.90" y="95.17" width="8.30" height="7.43" fill="#e2cadc"/>
<rect x="143.60" y="95.17" width="8.30" height="7.43" fill="#e2cadc"/>
<rect x="151.30" y="95.17" width="8.30" height="7.43" fill="#e2cadc"/>
<rect x="159.00" y="95.17" width="8.30" height="7.43" fill="#e2cadc"/>
<rect x="-2.70" y="102.00" width="8.30" height="7.43" fill="#e7bfc6"/>
<rect x="5.00" y="102.00" width="8.30" height="7.43" fill="#e7bfc6"/>
<rect x="12.70" y="102.00" width="8.30" height="7.43" fill="#e2cadc"/>
<rect x="20.40" y="102.00" width="8.30" height="7.43" fill="#e2cadc"/>
<rect x="28.10" y="102.00" width="8.30" height="7.43" fill="#d7c5e2"/>
<rect x="35.80" y="102.00" width="8.30" height="7.43" fill="#d7c5e2"/>
<rect x="43.50" y="102.00" width="8.30" height="7.43" fill="#e2cadc"/>
<rect x="51.20" y="102.00" width="8.30" height="7.43" fill="#cfc1e6"/>
<rect x="58.90" y="102.00" width="8.30" height="7.43" fill="#e2cadc"/>
<rect x="66.60" y="102.00" width="8.30" height="7.43" fill="#e2cadc"/>
<rect x="74.30" y="102.00" width="8.30" height="7.43" fill="#e2cadc"/>
<rect x="82.00" y="102.00" width="8.30" height="7.43" fill="#d7c5e2"/>
<rect x="89.70" y="102.00" width="8.30" height="7.43" fill="#d7c5e2"/>
<rect x="97.40" y="102.00" width="8.30" height="7.43" fill="#d7c5e2"/>
<rect x="105.10" y="102.00" width="8.30" height="7.43" fill="#d7c5e2"/>
<rect x="112.80" y="102.00" width="8.30" height="7.43" fill="#d7c5e2"/>
<rect x="120.50" y="102.00" width="8.30" height="7.43" fill="#d7c5e2"/>
<rect x="128.20" y="102.00" width="8.30" height="7.43" fill="#d7c5e2"/>
<rect x="135.90" y="102.00" width="8.30" height="7.43" fill="#e2cadc"/>
<rect x="143.60" y="102.00" width="8.30" height="7.43" fill="#e2cadc"/>
<rect x="151.30" y="102.00" width="8.30" height="7.43" fill="#e2cadc"/>
<rect x="159.00" y="102.00" width="8.30" height="7.43" fill="#e2cadc"/>
<ellipse cx="90" cy="82.5" rx="5" ry="2.5" fill="#c43428" fill-opacity="1"/>
</g>
<use href="#coast" transform="translate(82.00 61.00) scale(0.42778 0.68333)"/>
</g>
<filter id="fA" x="-15" y="0" width="194" height="122" filterUnits="userSpaceOnUse"><feGaussianBlur stdDeviation="1.5"/></filter>
<rect x="5.5" y="20.5" width="153" height="81" fill="none" stroke="#404040" stroke-width="1.1"/>
<clipPath id="cB"><rect x="173" y="20" width="154" height="82"/></clipPath>
<g clip-path="url(#cB)"><g filter="url(#fB)">
<rect x="173" y="20" width="154.00" height="82.00" fill="#6a72e8"/>
<polygon points="173,20 192,20 190,24.5 184.5,29 180,34.8 173,39.3" fill="#3e4cd4"/>
<polygon points="193,20 221,20 221,26 209,26.5 207,41 199,41 197.5,30 194.5,25" fill="#7e86ee"/>
<rect x="222" y="20" width="22.00" height="3.30" fill="#7e86ee"/>
<rect x="260" y="20" width="37.00" height="8.00" fill="#767eec"/>
<polygon points="226,36.7 255,36.7 257,30 327,30 327,43.3 272,43.3 270,45 226,45" fill="#3e4cd4"/>
<rect x="244" y="32.4" width="28.00" height="4.10" fill="#5660dc"/>
<rect x="173" y="46.7" width="154.00" height="27.60" fill="#b0b4f8"/>
<rect x="222" y="46.7" width="45.00" height="6.60" fill="#6a72e8"/>
<rect x="250" y="46.7" width="17.00" height="20.00" fill="#6a72e8"/>
<polygon points="183,62 200,58 215,55.5 223,56.7 223,74.3 200,74.3 190,68" fill="#828af0"/>
<rect x="223" y="53.3" width="27.00" height="21.00" fill="#7078e8"/>
<rect x="232" y="66.7" width="95.00" height="7.60" fill="#6a72e8"/>
<polygon points="262,53 266,52.5 268,56 268,66 265,68 262,64" fill="#c0c4fa"/>
<rect x="173" y="74.3" width="154.00" height="27.70" fill="#6a72e8"/>
<rect x="231" y="74.3" width="96.00" height="7.00" fill="#3e4cd4"/>
<rect x="173" y="75" width="15.00" height="6.70" fill="#4a58d8"/>
<rect x="194.7" y="75" width="18.30" height="6.70" fill="#4a58d8"/>
<rect x="173" y="85" width="77.00" height="17.00" fill="#8890f0"/>
<rect x="250" y="88.3" width="77.00" height="13.70" fill="#8c94f2"/>
<polyline points="173,46.4 327,46.4" fill="none" stroke="#b4b8f8" stroke-width="0.8"/>
<polyline points="173,74.0 327,74.0" fill="none" stroke="#a0a8f6" stroke-width="0.8"/>
<polygon points="280.5,36 282,33 286,32 291,33 293.5,36.5 292,40 287,41.5 282,40.5" fill="#5c66e0"/>
<polyline points="280.5,36 282,33 286,32 291,33 293.5,36.5 292,40 287,41.5 282,40.5 280.5,36" fill="none" stroke="#b8bef8" stroke-width="0.8" stroke-linejoin="round"/>
<rect x="282" y="37" width="2.00" height="2.30" fill="#f0a080"/>
<polyline points="215.5,63 217,68 219,72 220,76 221,81" fill="none" stroke="#f4b8a8" stroke-width="1.4"/>
<rect x="255" y="98.5" width="5.00" height="2.50" fill="#f8a888"/>
</g>
<use href="#coast" transform="translate(250.00 61.00) scale(0.42778 0.68333)"/>
</g>
<filter id="fB" x="153" y="0" width="194" height="122" filterUnits="userSpaceOnUse"><feGaussianBlur stdDeviation="0.35"/></filter>
<rect x="173.5" y="20.5" width="153" height="81" fill="none" stroke="#404040" stroke-width="1.1"/>
<clipPath id="cC"><rect x="341" y="20" width="154" height="82"/></clipPath>
<g clip-path="url(#cC)"><g filter="url(#fC)">
<rect x="333.30" y="13.17" width="8.30" height="7.43" fill="#8086ea"/>
<rect x="341.00" y="13.17" width="8.30" height="7.43" fill="#8086ea"/>
<rect x="348.70" y="13.17" width="8.30" height="7.43" fill="#8a8eec"/>
<rect x="356.40" y="13.17" width="8.30" height="7.43" fill="#9496ed"/>
<rect x="364.10" y="13.17" width="8.30" height="7.43" fill="#a3a3ee"/>
<rect x="371.80" y="13.17" width="8.30" height="7.43" fill="#a3a3ee"/>
<rect x="379.50" y="13.17" width="8.30" height="7.43" fill="#a3a3ee"/>
<rect x="387.20" y="13.17" width="8.30" height="7.43" fill="#9496ed"/>
<rect x="394.90" y="13.17" width="8.30" height="7.43" fill="#8a8eec"/>
<rect x="402.60" y="13.17" width="8.30" height="7.43" fill="#8086ea"/>
<rect x="410.30" y="13.17" width="8.30" height="7.43" fill="#8086ea"/>
<rect x="418.00" y="13.17" width="8.30" height="7.43" fill="#8a8eec"/>
<rect x="425.70" y="13.17" width="8.30" height="7.43" fill="#8a8eec"/>
<rect x="433.40" y="13.17" width="8.30" height="7.43" fill="#9496ed"/>
<rect x="441.10" y="13.17" width="8.30" height="7.43" fill="#9496ed"/>
<rect x="448.80" y="13.17" width="8.30" height="7.43" fill="#9496ed"/>
<rect x="456.50" y="13.17" width="8.30" height="7.43" fill="#9496ed"/>
<rect x="464.20" y="13.17" width="8.30" height="7.43" fill="#8a8eec"/>
<rect x="471.90" y="13.17" width="8.30" height="7.43" fill="#8a8eec"/>
<rect x="479.60" y="13.17" width="8.30" height="7.43" fill="#8086ea"/>
<rect x="487.30" y="13.17" width="8.30" height="7.43" fill="#8086ea"/>
<rect x="495.00" y="13.17" width="8.30" height="7.43" fill="#8086ea"/>
<rect x="333.30" y="20.00" width="8.30" height="7.43" fill="#8086ea"/>
<rect x="341.00" y="20.00" width="8.30" height="7.43" fill="#8086ea"/>
<rect x="348.70" y="20.00" width="8.30" height="7.43" fill="#8a8eec"/>
<rect x="356.40" y="20.00" width="8.30" height="7.43" fill="#9496ed"/>
<rect x="364.10" y="20.00" width="8.30" height="7.43" fill="#a3a3ee"/>
<rect x="371.80" y="20.00" width="8.30" height="7.43" fill="#a3a3ee"/>
<rect x="379.50" y="20.00" width="8.30" height="7.43" fill="#a3a3ee"/>
<rect x="387.20" y="20.00" width="8.30" height="7.43" fill="#9496ed"/>
<rect x="394.90" y="20.00" width="8.30" height="7.43" fill="#8a8eec"/>
<rect x="402.60" y="20.00" width="8.30" height="7.43" fill="#8086ea"/>
<rect x="410.30" y="20.00" width="8.30" height="7.43" fill="#8086ea"/>
<rect x="418.00" y="20.00" width="8.30" height="7.43" fill="#8a8eec"/>
<rect x="425.70" y="20.00" width="8.30" height="7.43" fill="#8a8eec"/>
<rect x="433.40" y="20.00" width="8.30" height="7.43" fill="#9496ed"/>
<rect x="441.10" y="20.00" width="8.30" height="7.43" fill="#9496ed"/>
<rect x="448.80" y="20.00" width="8.30" height="7.43" fill="#9496ed"/>
<rect x="456.50" y="20.00" width="8.30" height="7.43" fill="#9496ed"/>
<rect x="464.20" y="20.00" width="8.30" height="7.43" fill="#8a8eec"/>
<rect x="471.90" y="20.00" width="8.30" height="7.43" fill="#8a8eec"/>
<rect x="479.60" y="20.00" width="8.30" height="7.43" fill="#8086ea"/>
<rect x="487.30" y="20.00" width="8.30" height="7.43" fill="#8086ea"/>
<rect x="495.00" y="20.00" width="8.30" height="7.43" fill="#8086ea"/>
<rect x="333.30" y="26.83" width="8.30" height="7.43" fill="#8a8eec"/>
<rect x="341.00" y="26.83" width="8.30" height="7.43" fill="#8a8eec"/>
<rect x="348.70" y="26.83" width="8.30" height="7.43" fill="#9496ed"/>
<rect x="356.40" y="26.83" width="8.30" height="7.43" fill="#a3a3ee"/>
<rect x="364.10" y="26.83" width="8.30" height="7.43" fill="#b2b0ef"/>
<rect x="371.80" y="26.83" width="8.30" height="7.43" fill="#b2b0ef"/>
<rect x="379.50" y="26.83" width="8.30" height="7.43" fill="#b2b0ef"/>
<rect x="387.20" y="26.83" width="8.30" height="7.43" fill="#b2b0ef"/>
<rect x="394.90" y="26.83" width="8.30" height="7.43" fill="#a3a3ee"/>
<rect x="402.60" y="26.83" width="8.30" height="7.43" fill="#8a8eec"/>
<rect x="410.30" y="26.83" width="8.30" height="7.43" fill="#9496ed"/>
<rect x="418.00" y="26.83" width="8.30" height="7.43" fill="#a3a3ee"/>
<rect x="425.70" y="26.83" width="8.30" height="7.43" fill="#b2b0ef"/>
<rect x="433.40" y="26.83" width="8.30" height="7.43" fill="#b2b0ef"/>
<rect x="441.10" y="26.83" width="8.30" height="7.43" fill="#bcb8f0"/>
<rect x="448.80" y="26.83" width="8.30" height="7.43" fill="#bcb8f0"/>
<rect x="456.50" y="26.83" width="8.30" height="7.43" fill="#b2b0ef"/>
<rect x="464.20" y="26.83" width="8.30" height="7.43" fill="#a3a3ee"/>
<rect x="471.90" y="26.83" width="8.30" height="7.43" fill="#9496ed"/>
<rect x="479.60" y="26.83" width="8.30" height="7.43" fill="#8a8eec"/>
<rect x="487.30" y="26.83" width="8.30" height="7.43" fill="#8a8eec"/>
<rect x="495.00" y="26.83" width="8.30" height="7.43" fill="#8a8eec"/>
<rect x="333.30" y="33.67" width="8.30" height="7.43" fill="#a3a3ee"/>
<rect x="341.00" y="33.67" width="8.30" height="7.43" fill="#a3a3ee"/>
<rect x="348.70" y="33.67" width="8.30" height="7.43" fill="#b2b0ef"/>
<rect x="356.40" y="33.67" width="8.30" height="7.43" fill="#b2b0ef"/>
<rect x="364.10" y="33.67" width="8.30" height="7.43" fill="#bcb8f0"/>
<rect x="371.80" y="33.67" width="8.30" height="7.43" fill="#bcb8f0"/>
<rect x="379.50" y="33.67" width="8.30" height="7.43" fill="#bcb8f0"/>
<rect x="387.20" y="33.67" width="8.30" height="7.43" fill="#bcb8f0"/>
<rect x="394.90" y="33.67" width="8.30" height="7.43" fill="#bcb8f0"/>
<rect x="402.60" y="33.67" width="8.30" height="7.43" fill="#b2b0ef"/>
<rect x="410.30" y="33.67" width="8.30" height="7.43" fill="#b2b0ef"/>
<rect x="418.00" y="33.67" width="8.30" height="7.43" fill="#bcb8f0"/>
<rect x="425.70" y="33.67" width="8.30" height="7.43" fill="#c4bcec"/>
<rect x="433.40" y="33.67" width="8.30" height="7.43" fill="#cfc1e6"/>
<rect x="441.10" y="33.67" width="8.30" height="7.43" fill="#cfc1e6"/>
<rect x="448.80" y="33.67" width="8.30" height="7.43" fill="#cfc1e6"/>
<rect x="456.50" y="33.67" width="8.30" height="7.43" fill="#c4bcec"/>
<rect x="464.20" y="33.67" width="8.30" height="7.43" fill="#bcb8f0"/>
<rect x="471.90" y="33.67" width="8.30" height="7.43" fill="#bcb8f0"/>
<rect x="479.60" y="33.67" width="8.30" height="7.43" fill="#b2b0ef"/>
<rect x="487.30" y="33.67" width="8.30" height="7.43" fill="#a3a3ee"/>
<rect x="495.00" y="33.67" width="8.30" height="7.43" fill="#a3a3ee"/>
<rect x="333.30" y="40.50" width="8.30" height="7.43" fill="#cfc1e6"/>
<rect x="341.00" y="40.50" width="8.30" height="7.43" fill="#cfc1e6"/>
<rect x="348.70" y="40.50" width="8.30" height="7.43" fill="#cfc1e6"/>
<rect x="356.40" y="40.50" width="8.30" height="7.43" fill="#c4bcec"/>
<rect x="364.10" y="40.50" width="8.30" height="7.43" fill="#bcb8f0"/>
<rect x="371.80" y="40.50" width="8.30" height="7.43" fill="#bcb8f0"/>
<rect x="379.50" y="40.50" width="8.30" height="7.43" fill="#bcb8f0"/>
<rect x="387.20" y="40.50" width="8.30" height="7.43" fill="#bcb8f0"/>
<rect x="394.90" y="40.50" width="8.30" height="7.43" fill="#c4bcec"/>
<rect x="402.60" y="40.50" width="8.30" height="7.43" fill="#e2cadc"/>
<rect x="410.30" y="40.50" width="8.30" height="7.43" fill="#cfc1e6"/>
<rect x="418.00" y="40.50" width="8.30" height="7.43" fill="#bcb8f0"/>
<rect x="425.70" y="40.50" width="8.30" height="7.43" fill="#cfc1e6"/>
<rect x="433.40" y="40.50" width="8.30" height="7.43" fill="#d7c5e2"/>
<rect x="441.10" y="40.50" width="8.30" height="7.43" fill="#cfc1e6"/>
<rect x="448.80" y="40.50" width="8.30" height="7.43" fill="#cfc1e6"/>
<rect x="456.50" y="40.50" width="8.30" height="7.43" fill="#bcb8f0"/>
<rect x="464.20" y="40.50" width="8.30" height="7.43" fill="#c4bcec"/>
<rect x="471.90" y="40.50" width="8.30" height="7.43" fill="#c4bcec"/>
<rect x="479.60" y="40.50" width="8.30" height="7.43" fill="#cfc1e6"/>
<rect x="487.30" y="40.50" width="8.30" height="7.43" fill="#c4bcec"/>
<rect x="495.00" y="40.50" width="8.30" height="7.43" fill="#c4bcec"/>
<rect x="333.30" y="47.33" width="8.30" height="7.43" fill="#bcb8f0"/>
<rect x="341.00" y="47.33" width="8.30" height="7.43" fill="#bcb8f0"/>
<rect x="348.70" y="47.33" width="8.30" height="7.43" fill="#b2b0ef"/>
<rect x="356.40" y="47.33" width="8.30" height="7.43" fill="#b2b0ef"/>
<rect x="364.10" y="47.33" width="8.30" height="7.43" fill="#b2b0ef"/>
<rect x="371.80" y="47.33" width="8.30" height="7.43" fill="#bcb8f0"/>
<rect x="379.50" y="47.33" width="8.30" height="7.43" fill="#bcb8f0"/>
<rect x="387.20" y="47.33" width="8.30" height="7.43" fill="#c4bcec"/>
<rect x="394.90" y="47.33" width="8.30" height="7.43" fill="#cfc1e6"/>
<rect x="402.60" y="47.33" width="8.30" height="7.43" fill="#cfc1e6"/>
<rect x="410.30" y="47.33" width="8.30" height="7.43" fill="#cfc1e6"/>
<rect x="418.00" y="47.33" width="8.30" height="7.43" fill="#cfc1e6"/>
<rect x="425.70" y="47.33" width="8.30" height="7.43" fill="#cfc1e6"/>
<rect x="433.40" y="47.33" width="8.30" height="7.43" fill="#cfc1e6"/>
<rect x="441.10" y="47.33" width="8.30" height="7.43" fill="#c4bcec"/>
<rect x="448.80" y="47.33" width="8.30" height="7.43" fill="#bcb8f0"/>
<rect x="456.50" y="47.33" width="8.30" height="7.43" fill="#bcb8f0"/>
<rect x="464.20" y="47.33" width="8.30" height="7.43" fill="#bcb8f0"/>
<rect x="471.90" y="47.33" width="8.30" height="7.43" fill="#bcb8f0"/>
<rect x="479.60" y="47.33" width="8.30" height="7.43" fill="#c4bcec"/>
<rect x="487.30" y="47.33" width="8.30" height="7.43" fill="#c4bcec"/>
<rect x="495.00" y="47.33" width="8.30" height="7.43" fill="#c4bcec"/>
<rect x="333.30" y="54.17" width="8.30" height="7.43" fill="#b2b0ef"/>
<rect x="341.00" y="54.17" width="8.30" height="7.43" fill="#b2b0ef"/>
<rect x="348.70" y="54.17" width="8.30" height="7.43" fill="#a3a3ee"/>
<rect x="356.40" y="54.17" width="8.30" height="7.43" fill="#a3a3ee"/>
<rect x="364.10" y="54.17" width="8.30" height="7.43" fill="#adabef"/>
<rect x="371.80" y="54.17" width="8.30" height="7.43" fill="#b2b0ef"/>
<rect x="379.50" y="54.17" width="8.30" height="7.43" fill="#b2b0ef"/>
<rect x="387.20" y="54.17" width="8.30" height="7.43" fill="#a3a3ee"/>
<rect x="394.90" y="54.17" width="8.30" height="7.43" fill="#bcb8f0"/>
<rect x="402.60" y="54.17" width="8.30" height="7.43" fill="#c4bcec"/>
<rect x="410.30" y="54.17" width="8.30" height="7.43" fill="#c4bcec"/>
<rect x="418.00" y="54.17" width="8.30" height="7.43" fill="#cfc1e6"/>
<rect x="425.70" y="54.17" width="8.30" height="7.43" fill="#c4bcec"/>
<rect x="433.40" y="54.17" width="8.30" height="7.43" fill="#c4bcec"/>
<rect x="441.10" y="54.17" width="8.30" height="7.43" fill="#bcb8f0"/>
<rect x="448.80" y="54.17" width="8.30" height="7.43" fill="#bcb8f0"/>
<rect x="456.50" y="54.17" width="8.30" height="7.43" fill="#bcb8f0"/>
<rect x="464.20" y="54.17" width="8.30" height="7.43" fill="#bcb8f0"/>
<rect x="471.90" y="54.17" width="8.30" height="7.43" fill="#bcb8f0"/>
<rect x="479.60" y="54.17" width="8.30" height="7.43" fill="#c4bcec"/>
<rect x="487.30" y="54.17" width="8.30" height="7.43" fill="#bcb8f0"/>
<rect x="495.00" y="54.17" width="8.30" height="7.43" fill="#bcb8f0"/>
<rect x="333.30" y="61.00" width="8.30" height="7.43" fill="#c4bcec"/>
<rect x="341.00" y="61.00" width="8.30" height="7.43" fill="#c4bcec"/>
<rect x="348.70" y="61.00" width="8.30" height="7.43" fill="#bcb8f0"/>
<rect x="356.40" y="61.00" width="8.30" height="7.43" fill="#bcb8f0"/>
<rect x="364.10" y="61.00" width="8.30" height="7.43" fill="#bcb8f0"/>
<rect x="371.80" y="61.00" width="8.30" height="7.43" fill="#c4bcec"/>
<rect x="379.50" y="61.00" width="8.30" height="7.43" fill="#bcb8f0"/>
<rect x="387.20" y="61.00" width="8.30" height="7.43" fill="#8086ea"/>
<rect x="394.90" y="61.00" width="8.30" height="7.43" fill="#9496ed"/>
<rect x="402.60" y="61.00" width="8.30" height="7.43" fill="#bcb8f0"/>
<rect x="410.30" y="61.00" width="8.30" height="7.43" fill="#cfc1e6"/>
<rect x="418.00" y="61.00" width="8.30" height="7.43" fill="#e2cadc"/>
<rect x="425.70" y="61.00" width="8.30" height="7.43" fill="#bcb8f0"/>
<rect x="433.40" y="61.00" width="8.30" height="7.43" fill="#b2b0ef"/>
<rect x="441.10" y="61.00" width="8.30" height="7.43" fill="#a3a3ee"/>
<rect x="448.80" y="61.00" width="8.30" height="7.43" fill="#a3a3ee"/>
<rect x="456.50" y="61.00" width="8.30" height="7.43" fill="#b2b0ef"/>
<rect x="464.20" y="61.00" width="8.30" height="7.43" fill="#b2b0ef"/>
<rect x="471.90" y="61.00" width="8.30" height="7.43" fill="#b2b0ef"/>
<rect x="479.60" y="61.00" width="8.30" height="7.43" fill="#bcb8f0"/>
<rect x="487.30" y="61.00" width="8.30" height="7.43" fill="#bcb8f0"/>
<rect x="495.00" y="61.00" width="8.30" height="7.43" fill="#bcb8f0"/>
<rect x="333.30" y="67.83" width="8.30" height="7.43" fill="#b2b0ef"/>
<rect x="341.00" y="67.83" width="8.30" height="7.43" fill="#b2b0ef"/>
<rect x="348.70" y="67.83" width="8.30" height="7.43" fill="#b2b0ef"/>
<rect x="356.40" y="67.83" width="8.30" height="7.43" fill="#bcb8f0"/>
<rect x="364.10" y="67.83" width="8.30" height="7.43" fill="#c4bcec"/>
<rect x="371.80" y="67.83" width="8.30" height="7.43" fill="#cfc1e6"/>
<rect x="379.50" y="67.83" width="8.30" height="7.43" fill="#b2b0ef"/>
<rect x="387.20" y="67.83" width="8.30" height="7.43" fill="#8a8eec"/>
<rect x="394.90" y="67.83" width="8.30" height="7.43" fill="#9496ed"/>
<rect x="402.60" y="67.83" width="8.30" height="7.43" fill="#b2b0ef"/>
<rect x="410.30" y="67.83" width="8.30" height="7.43" fill="#cfc1e6"/>
<rect x="418.00" y="67.83" width="8.30" height="7.43" fill="#cfc1e6"/>
<rect x="425.70" y="67.83" width="8.30" height="7.43" fill="#e2cadc"/>
<rect x="433.40" y="67.83" width="8.30" height="7.43" fill="#cfc1e6"/>
<rect x="441.10" y="67.83" width="8.30" height="7.43" fill="#cfc1e6"/>
<rect x="448.80" y="67.83" width="8.30" height="7.43" fill="#cfc1e6"/>
<rect x="456.50" y="67.83" width="8.30" height="7.43" fill="#c4bcec"/>
<rect x="464.20" y="67.83" width="8.30" height="7.43" fill="#bcb8f0"/>
<rect x="471.90" y="67.83" width="8.30" height="7.43" fill="#bcb8f0"/>
<rect x="479.60" y="67.83" width="8.30" height="7.43" fill="#c4bcec"/>
<rect x="487.30" y="67.83" width="8.30" height="7.43" fill="#bcb8f0"/>
<rect x="495.00" y="67.83" width="8.30" height="7.43" fill="#bcb8f0"/>
<rect x="333.30" y="74.67" width="8.30" height="7.43" fill="#b2b0ef"/>
<rect x="341.00" y="74.67" width="8.30" height="7.43" fill="#b2b0ef"/>
<rect x="348.70" y="74.67" width="8.30" height="7.43" fill="#b2b0ef"/>
<rect x="356.40" y="74.67" width="8.30" height="7.43" fill="#b2b0ef"/>
<rect x="364.10" y="74.67" width="8.30" height="7.43" fill="#a3a3ee"/>
<rect x="371.80" y="74.67" width="8.30" height="7.43" fill="#9496ed"/>
<rect x="379.50" y="74.67" width="8.30" height="7.43" fill="#8086ea"/>
<rect x="387.20" y="74.67" width="8.30" height="7.43" fill="#7279e6"/>
<rect x="394.90" y="74.67" width="8.30" height="7.43" fill="#8086ea"/>
<rect x="402.60" y="74.67" width="8.30" height="7.43" fill="#8086ea"/>
<rect x="410.30" y="74.67" width="8.30" height="7.43" fill="#8a8eec"/>
<rect x="418.00" y="74.67" width="8.30" height="7.43" fill="#d7c5e2"/>
<rect x="425.70" y="74.67" width="8.30" height="7.43" fill="#cfc1e6"/>
<rect x="433.40" y="74.67" width="8.30" height="7.43" fill="#c4bcec"/>
<rect x="441.10" y="74.67" width="8.30" height="7.43" fill="#bcb8f0"/>
<rect x="448.80" y="74.67" width="8.30" height="7.43" fill="#b2b0ef"/>
<rect x="456.50" y="74.67" width="8.30" height="7.43" fill="#b2b0ef"/>
<rect x="464.20" y="74.67" width="8.30" height="7.43" fill="#cfc1e6"/>
<rect x="471.90" y="74.67" width="8.30" height="7.43" fill="#c4bcec"/>
<rect x="479.60" y="74.67" width="8.30" height="7.43" fill="#b2b0ef"/>
<rect x="487.30" y="74.67" width="8.30" height="7.43" fill="#b2b0ef"/>
<rect x="495.00" y="74.67" width="8.30" height="7.43" fill="#b2b0ef"/>
<rect x="333.30" y="81.50" width="8.30" height="7.43" fill="#bcb8f0"/>
<rect x="341.00" y="81.50" width="8.30" height="7.43" fill="#bcb8f0"/>
<rect x="348.70" y="81.50" width="8.30" height="7.43" fill="#bcb8f0"/>
<rect x="356.40" y="81.50" width="8.30" height="7.43" fill="#bcb8f0"/>
<rect x="364.10" y="81.50" width="8.30" height="7.43" fill="#b2b0ef"/>
<rect x="371.80" y="81.50" width="8.30" height="7.43" fill="#b2b0ef"/>
<rect x="379.50" y="81.50" width="8.30" height="7.43" fill="#a3a3ee"/>
<rect x="387.20" y="81.50" width="8.30" height="7.43" fill="#a3a3ee"/>
<rect x="394.90" y="81.50" width="8.30" height="7.43" fill="#a3a3ee"/>
<rect x="402.60" y="81.50" width="8.30" height="7.43" fill="#a3a3ee"/>
<rect x="410.30" y="81.50" width="8.30" height="7.43" fill="#a3a3ee"/>
<rect x="418.00" y="81.50" width="8.30" height="7.43" fill="#d7c5e2"/>
<rect x="425.70" y="81.50" width="8.30" height="7.43" fill="#cfc1e6"/>
<rect x="433.40" y="81.50" width="8.30" height="7.43" fill="#c4bcec"/>
<rect x="441.10" y="81.50" width="8.30" height="7.43" fill="#bcb8f0"/>
<rect x="448.80" y="81.50" width="8.30" height="7.43" fill="#bcb8f0"/>
<rect x="456.50" y="81.50" width="8.30" height="7.43" fill="#b2b0ef"/>
<rect x="464.20" y="81.50" width="8.30" height="7.43" fill="#bcb8f0"/>
<rect x="471.90" y="81.50" width="8.30" height="7.43" fill="#bcb8f0"/>
<rect x="479.60" y="81.50" width="8.30" height="7.43" fill="#b2b0ef"/>
<rect x="487.30" y="81.50" width="8.30" height="7.43" fill="#b2b0ef"/>
<rect x="495.00" y="81.50" width="8.30" height="7.43" fill="#b2b0ef"/>
<rect x="333.30" y="88.33" width="8.30" height="7.43" fill="#b2b0ef"/>
<rect x="341.00" y="88.33" width="8.30" height="7.43" fill="#b2b0ef"/>
<rect x="348.70" y="88.33" width="8.30" height="7.43" fill="#b2b0ef"/>
<rect x="356.40" y="88.33" width="8.30" height="7.43" fill="#b2b0ef"/>
<rect x="364.10" y="88.33" width="8.30" height="7.43" fill="#b2b0ef"/>
<rect x="371.80" y="88.33" width="8.30" height="7.43" fill="#b2b0ef"/>
<rect x="379.50" y="88.33" width="8.30" height="7.43" fill="#b2b0ef"/>
<rect x="387.20" y="88.33" width="8.30" height="7.43" fill="#b2b0ef"/>
<rect x="394.90" y="88.33" width="8.30" height="7.43" fill="#b2b0ef"/>
<rect x="402.60" y="88.33" width="8.30" height="7.43" fill="#b2b0ef"/>
<rect x="410.30" y="88.33" width="8.30" height="7.43" fill="#b2b0ef"/>
<rect x="418.00" y="88.33" width="8.30" height="7.43" fill="#a3a3ee"/>
<rect x="425.70" y="88.33" width="8.30" height="7.43" fill="#a3a3ee"/>
<rect x="433.40" y="88.33" width="8.30" height="7.43" fill="#a3a3ee"/>
<rect x="441.10" y="88.33" width="8.30" height="7.43" fill="#a3a3ee"/>
<rect x="448.80" y="88.33" width="8.30" height="7.43" fill="#a3a3ee"/>
<rect x="456.50" y="88.33" width="8.30" height="7.43" fill="#a3a3ee"/>
<rect x="464.20" y="88.33" width="8.30" height="7.43" fill="#a3a3ee"/>
<rect x="471.90" y="88.33" width="8.30" height="7.43" fill="#a3a3ee"/>
<rect x="479.60" y="88.33" width="8.30" height="7.43" fill="#a3a3ee"/>
<rect x="487.30" y="88.33" width="8.30" height="7.43" fill="#a3a3ee"/>
<rect x="495.00" y="88.33" width="8.30" height="7.43" fill="#a3a3ee"/>
<rect x="333.30" y="95.17" width="8.30" height="7.43" fill="#a3a3ee"/>
<rect x="341.00" y="95.17" width="8.30" height="7.43" fill="#a3a3ee"/>
<rect x="348.70" y="95.17" width="8.30" height="7.43" fill="#a3a3ee"/>
<rect x="356.40" y="95.17" width="8.30" height="7.43" fill="#a3a3ee"/>
<rect x="364.10" y="95.17" width="8.30" height="7.43" fill="#a3a3ee"/>
<rect x="371.80" y="95.17" width="8.30" height="7.43" fill="#a3a3ee"/>
<rect x="379.50" y="95.17" width="8.30" height="7.43" fill="#a3a3ee"/>
<rect x="387.20" y="95.17" width="8.30" height="7.43" fill="#a3a3ee"/>
<rect x="394.90" y="95.17" width="8.30" height="7.43" fill="#a3a3ee"/>
<rect x="402.60" y="95.17" width="8.30" height="7.43" fill="#a3a3ee"/>
<rect x="410.30" y="95.17" width="8.30" height="7.43" fill="#a3a3ee"/>
<rect x="418.00" y="95.17" width="8.30" height="7.43" fill="#a3a3ee"/>
<rect x="425.70" y="95.17" width="8.30" height="7.43" fill="#a3a3ee"/>
<rect x="433.40" y="95.17" width="8.30" height="7.43" fill="#a3a3ee"/>
<rect x="441.10" y="95.17" width="8.30" height="7.43" fill="#a3a3ee"/>
<rect x="448.80" y="95.17" width="8.30" height="7.43" fill="#a3a3ee"/>
<rect x="456.50" y="95.17" width="8.30" height="7.43" fill="#a3a3ee"/>
<rect x="464.20" y="95.17" width="8.30" height="7.43" fill="#a3a3ee"/>
<rect x="471.90" y="95.17" width="8.30" height="7.43" fill="#a3a3ee"/>
<rect x="479.60" y="95.17" width="8.30" height="7.43" fill="#a3a3ee"/>
<rect x="487.30" y="95.17" width="8.30" height="7.43" fill="#a3a3ee"/>
<rect x="495.00" y="95.17" width="8.30" height="7.43" fill="#a3a3ee"/>
<rect x="333.30" y="102.00" width="8.30" height="7.43" fill="#a3a3ee"/>
<rect x="341.00" y="102.00" width="8.30" height="7.43" fill="#a3a3ee"/>
<rect x="348.70" y="102.00" width="8.30" height="7.43" fill="#a3a3ee"/>
<rect x="356.40" y="102.00" width="8.30" height="7.43" fill="#a3a3ee"/>
<rect x="364.10" y="102.00" width="8.30" height="7.43" fill="#a3a3ee"/>
<rect x="371.80" y="102.00" width="8.30" height="7.43" fill="#a3a3ee"/>
<rect x="379.50" y="102.00" width="8.30" height="7.43" fill="#a3a3ee"/>
<rect x="387.20" y="102.00" width="8.30" height="7.43" fill="#a3a3ee"/>
<rect x="394.90" y="102.00" width="8.30" height="7.43" fill="#a3a3ee"/>
<rect x="402.60" y="102.00" width="8.30" height="7.43" fill="#a3a3ee"/>
<rect x="410.30" y="102.00" width="8.30" height="7.43" fill="#a3a3ee"/>
<rect x="418.00" y="102.00" width="8.30" height="7.43" fill="#a3a3ee"/>
<rect x="425.70" y="102.00" width="8.30" height="7.43" fill="#a3a3ee"/>
<rect x="433.40" y="102.00" width="8.30" height="7.43" fill="#a3a3ee"/>
<rect x="441.10" y="102.00" width="8.30" height="7.43" fill="#a3a3ee"/>
<rect x="448.80" y="102.00" width="8.30" height="7.43" fill="#a3a3ee"/>
<rect x="456.50" y="102.00" width="8.30" height="7.43" fill="#a3a3ee"/>
<rect x="464.20" y="102.00" width="8.30" height="7.43" fill="#a3a3ee"/>
<rect x="471.90" y="102.00" width="8.30" height="7.43" fill="#a3a3ee"/>
<rect x="479.60" y="102.00" width="8.30" height="7.43" fill="#a3a3ee"/>
<rect x="487.30" y="102.00" width="8.30" height="7.43" fill="#a3a3ee"/>
<rect x="495.00" y="102.00" width="8.30" height="7.43" fill="#a3a3ee"/>
<ellipse cx="405" cy="44.5" rx="3.5" ry="1.6" fill="#f29a8a" fill-opacity="1"/>
<ellipse cx="418" cy="67.5" rx="4" ry="2" fill="#ec7464" fill-opacity="1"/>
<ellipse cx="433" cy="71.3" rx="6" ry="1.5" fill="#f0aca2" fill-opacity="1"/>
<ellipse cx="427.5" cy="81.5" rx="3" ry="1.8" fill="#ee7e6e" fill-opacity="1"/>
<ellipse cx="410" cy="78.5" rx="15" ry="3.5" fill="#6d75e5" fill-opacity="0.8"/>
</g>
<use href="#coast" transform="translate(418.00 61.00) scale(0.42778 0.68333)"/>
</g>
<filter id="fC" x="321" y="0" width="194" height="122" filterUnits="userSpaceOnUse"><feGaussianBlur stdDeviation="1.5"/></filter>
<rect x="341.5" y="20.5" width="153" height="81" fill="none" stroke="#404040" stroke-width="1.1"/>
<clipPath id="cD"><rect x="5" y="157" width="154" height="83"/></clipPath>
<g clip-path="url(#cD)"><g filter="url(#fD)">
<rect x="-2.70" y="150.08" width="8.30" height="7.52" fill="#d7c5e2"/>
<rect x="5.00" y="150.08" width="8.30" height="7.52" fill="#d7c5e2"/>
<rect x="12.70" y="150.08" width="8.30" height="7.52" fill="#cfc1e6"/>
<rect x="20.40" y="150.08" width="8.30" height="7.52" fill="#e2cadc"/>
<rect x="28.10" y="150.08" width="8.30" height="7.52" fill="#e2cadc"/>
<rect x="35.80" y="150.08" width="8.30" height="7.52" fill="#e7bfc6"/>
<rect x="43.50" y="150.08" width="8.30" height="7.52" fill="#e7bfc6"/>
<rect x="51.20" y="150.08" width="8.30" height="7.52" fill="#e2cadc"/>
<rect x="58.90" y="150.08" width="8.30" height="7.52" fill="#cfc1e6"/>
<rect x="66.60" y="150.08" width="8.30" height="7.52" fill="#b2b0ef"/>
<rect x="74.30" y="150.08" width="8.30" height="7.52" fill="#bcb8f0"/>
<rect x="82.00" y="150.08" width="8.30" height="7.52" fill="#a3a3ee"/>
<rect x="89.70" y="150.08" width="8.30" height="7.52" fill="#cfc1e6"/>
<rect x="97.40" y="150.08" width="8.30" height="7.52" fill="#e2cadc"/>
<rect x="105.10" y="150.08" width="8.30" height="7.52" fill="#ebb7b8"/>
<rect x="112.80" y="150.08" width="8.30" height="7.52" fill="#ebb7b8"/>
<rect x="120.50" y="150.08" width="8.30" height="7.52" fill="#f0aca2"/>
<rect x="128.20" y="150.08" width="8.30" height="7.52" fill="#ebb7b8"/>
<rect x="135.90" y="150.08" width="8.30" height="7.52" fill="#e2cadc"/>
<rect x="143.60" y="150.08" width="8.30" height="7.52" fill="#a3a3ee"/>
<rect x="151.30" y="150.08" width="8.30" height="7.52" fill="#b2b0ef"/>
<rect x="159.00" y="150.08" width="8.30" height="7.52" fill="#b2b0ef"/>
<rect x="-2.70" y="157.00" width="8.30" height="7.52" fill="#d7c5e2"/>
<rect x="5.00" y="157.00" width="8.30" height="7.52" fill="#d7c5e2"/>
<rect x="12.70" y="157.00" width="8.30" height="7.52" fill="#cfc1e6"/>
<rect x="20.40" y="157.00" width="8.30" height="7.52" fill="#e2cadc"/>
<rect x="28.10" y="157.00" width="8.30" height="7.52" fill="#e2cadc"/>
<rect x="35.80" y="157.00" width="8.30" height="7.52" fill="#e7bfc6"/>
<rect x="43.50" y="157.00" width="8.30" height="7.52" fill="#e7bfc6"/>
<rect x="51.20" y="157.00" width="8.30" height="7.52" fill="#e2cadc"/>
<rect x="58.90" y="157.00" width="8.30" height="7.52" fill="#cfc1e6"/>
<rect x="66.60" y="157.00" width="8.30" height="7.52" fill="#b2b0ef"/>
<rect x="74.30" y="157.00" width="8.30" height="7.52" fill="#bcb8f0"/>
<rect x="82.00" y="157.00" width="8.30" height="7.52" fill="#a3a3ee"/>
<rect x="89.70" y="157.00" width="8.30" height="7.52" fill="#cfc1e6"/>
<rect x="97.40" y="157.00" width="8.30" height="7.52" fill="#e2cadc"/>
<rect x="105.10" y="157.00" width="8.30" height="7.52" fill="#ebb7b8"/>
<rect x="112.80" y="157.00" width="8.30" height="7.52" fill="#ebb7b8"/>
<rect x="120.50" y="157.00" width="8.30" height="7.52" fill="#f0aca2"/>
<rect x="128.20" y="157.00" width="8.30" height="7.52" fill="#ebb7b8"/>
<rect x="135.90" y="157.00" width="8.30" height="7.52" fill="#e2cadc"/>
<rect x="143.60" y="157.00" width="8.30" height="7.52" fill="#a3a3ee"/>
<rect x="151.30" y="157.00" width="8.30" height="7.52" fill="#b2b0ef"/>
<rect x="159.00" y="157.00" width="8.30" height="7.52" fill="#b2b0ef"/>
<rect x="-2.70" y="163.92" width="8.30" height="7.52" fill="#ebb7b8"/>
<rect x="5.00" y="163.92" width="8.30" height="7.52" fill="#ebb7b8"/>
<rect x="12.70" y="163.92" width="8.30" height="7.52" fill="#ebb7b8"/>
<rect x="20.40" y="163.92" width="8.30" height="7.52" fill="#e7bfc6"/>
<rect x="28.10" y="163.92" width="8.30" height="7.52" fill="#f0aca2"/>
<rect x="35.80" y="163.92" width="8.30" height="7.52" fill="#f4a494"/>
<rect x="43.50" y="163.92" width="8.30" height="7.52" fill="#f0aca2"/>
<rect x="51.20" y="163.92" width="8.30" height="7.52" fill="#ebb7b8"/>
<rect x="58.90" y="163.92" width="8.30" height="7.52" fill="#c4bcec"/>
<rect x="66.60" y="163.92" width="8.30" height="7.52" fill="#bcb8f0"/>
<rect x="74.30" y="163.92" width="8.30" height="7.52" fill="#cfc1e6"/>
<rect x="82.00" y="163.92" width="8.30" height="7.52" fill="#e2cadc"/>
<rect x="89.70" y="163.92" width="8.30" height="7.52" fill="#ebb7b8"/>
<rect x="97.40" y="163.92" width="8.30" height="7.52" fill="#f0aca2"/>
<rect x="105.10" y="163.92" width="8.30" height="7.52" fill="#f0aca2"/>
<rect x="112.80" y="163.92" width="8.30" height="7.52" fill="#f0aca2"/>
<rect x="120.50" y="163.92" width="8.30" height="7.52" fill="#f29a8a"/>
<rect x="128.20" y="163.92" width="8.30" height="7.52" fill="#f0aca2"/>
<rect x="135.90" y="163.92" width="8.30" height="7.52" fill="#e7bfc6"/>
<rect x="143.60" y="163.92" width="8.30" height="7.52" fill="#bcb8f0"/>
<rect x="151.30" y="163.92" width="8.30" height="7.52" fill="#c4bcec"/>
<rect x="159.00" y="163.92" width="8.30" height="7.52" fill="#c4bcec"/>
<rect x="-2.70" y="170.83" width="8.30" height="7.52" fill="#f4a494"/>
<rect x="5.00" y="170.83" width="8.30" height="7.52" fill="#f4a494"/>
<rect x="12.70" y="170.83" width="8.30" height="7.52" fill="#f29a8a"/>
<rect x="20.40" y="170.83" width="8.30" height="7.52" fill="#f4a494"/>
<rect x="28.10" y="170.83" width="8.30" height="7.52" fill="#f4a494"/>
<rect x="35.80" y="170.83" width="8.30" height="7.52" fill="#f0aca2"/>
<rect x="43.50" y="170.83" width="8.30" height="7.52" fill="#f0aca2"/>
<rect x="51.20" y="170.83" width="8.30" height="7.52" fill="#ebb7b8"/>
<rect x="58.90" y="170.83" width="8.30" height="7.52" fill="#ebb7b8"/>
<rect x="66.60" y="170.83" width="8.30" height="7.52" fill="#ebb7b8"/>
<rect x="74.30" y="170.83" width="8.30" height="7.52" fill="#f0aca2"/>
<rect x="82.00" y="170.83" width="8.30" height="7.52" fill="#f08c7c"/>
<rect x="89.70" y="170.83" width="8.30" height="7.52" fill="#ec7464"/>
<rect x="97.40" y="170.83" width="8.30" height="7.52" fill="#e25e4e"/>
<rect x="105.10" y="170.83" width="8.30" height="7.52" fill="#f08c7c"/>
<rect x="112.80" y="170.83" width="8.30" height="7.52" fill="#bcb8f0"/>
<rect x="120.50" y="170.83" width="8.30" height="7.52" fill="#f08c7c"/>
<rect x="128.20" y="170.83" width="8.30" height="7.52" fill="#ebb7b8"/>
<rect x="135.90" y="170.83" width="8.30" height="7.52" fill="#e7bfc6"/>
<rect x="143.60" y="170.83" width="8.30" height="7.52" fill="#f0aca2"/>
<rect x="151.30" y="170.83" width="8.30" height="7.52" fill="#f0aca2"/>
<rect x="159.00" y="170.83" width="8.30" height="7.52" fill="#f0aca2"/>
<rect x="-2.70" y="177.75" width="8.30" height="7.52" fill="#c43428"/>
<rect x="5.00" y="177.75" width="8.30" height="7.52" fill="#c43428"/>
<rect x="12.70" y="177.75" width="8.30" height="7.52" fill="#c43428"/>
<rect x="20.40" y="177.75" width="8.30" height="7.52" fill="#c43428"/>
<rect x="28.10" y="177.75" width="8.30" height="7.52" fill="#e25e4e"/>
<rect x="35.80" y="177.75" width="8.30" height="7.52" fill="#f4a494"/>
<rect x="43.50" y="177.75" width="8.30" height="7.52" fill="#f0aca2"/>
<rect x="51.20" y="177.75" width="8.30" height="7.52" fill="#f0aca2"/>
<rect x="58.90" y="177.75" width="8.30" height="7.52" fill="#ec7464"/>
<rect x="66.60" y="177.75" width="8.30" height="7.52" fill="#c43428"/>
<rect x="74.30" y="177.75" width="8.30" height="7.52" fill="#c43428"/>
<rect x="82.00" y="177.75" width="8.30" height="7.52" fill="#ec7464"/>
<rect x="89.70" y="177.75" width="8.30" height="7.52" fill="#d84838"/>
<rect x="97.40" y="177.75" width="8.30" height="7.52" fill="#c43428"/>
<rect x="105.10" y="177.75" width="8.30" height="7.52" fill="#d84838"/>
<rect x="112.80" y="177.75" width="8.30" height="7.52" fill="#c43428"/>
<rect x="120.50" y="177.75" width="8.30" height="7.52" fill="#ebb7b8"/>
<rect x="128.20" y="177.75" width="8.30" height="7.52" fill="#e2cadc"/>
<rect x="135.90" y="177.75" width="8.30" height="7.52" fill="#f0aca2"/>
<rect x="143.60" y="177.75" width="8.30" height="7.52" fill="#f29a8a"/>
<rect x="151.30" y="177.75" width="8.30" height="7.52" fill="#f4a494"/>
<rect x="159.00" y="177.75" width="8.30" height="7.52" fill="#f4a494"/>
<rect x="-2.70" y="184.67" width="8.30" height="7.52" fill="#e2cadc"/>
<rect x="5.00" y="184.67" width="8.30" height="7.52" fill="#e2cadc"/>
<rect x="12.70" y="184.67" width="8.30" height="7.52" fill="#e2cadc"/>
<rect x="20.40" y="184.67" width="8.30" height="7.52" fill="#e2cadc"/>
<rect x="28.10" y="184.67" width="8.30" height="7.52" fill="#e2cadc"/>
<rect x="35.80" y="184.67" width="8.30" height="7.52" fill="#d7c5e2"/>
<rect x="43.50" y="184.67" width="8.30" height="7.52" fill="#e7bfc6"/>
<rect x="51.20" y="184.67" width="8.30" height="7.52" fill="#e7bfc6"/>
<rect x="58.90" y="184.67" width="8.30" height="7.52" fill="#ebb7b8"/>
<rect x="66.60" y="184.67" width="8.30" height="7.52" fill="#f08c7c"/>
<rect x="74.30" y="184.67" width="8.30" height="7.52" fill="#ec7464"/>
<rect x="82.00" y="184.67" width="8.30" height="7.52" fill="#e25e4e"/>
<rect x="89.70" y="184.67" width="8.30" height="7.52" fill="#e25e4e"/>
<rect x="97.40" y="184.67" width="8.30" height="7.52" fill="#e25e4e"/>
<rect x="105.10" y="184.67" width="8.30" height="7.52" fill="#e25e4e"/>
<rect x="112.80" y="184.67" width="8.30" height="7.52" fill="#f08c7c"/>
<rect x="120.50" y="184.67" width="8.30" height="7.52" fill="#e2cadc"/>
<rect x="128.20" y="184.67" width="8.30" height="7.52" fill="#e2cadc"/>
<rect x="135.90" y="184.67" width="8.30" height="7.52" fill="#e2cadc"/>
<rect x="143.60" y="184.67" width="8.30" height="7.52" fill="#e7bfc6"/>
<rect x="151.30" y="184.67" width="8.30" height="7.52" fill="#e2cadc"/>
<rect x="159.00" y="184.67" width="8.30" height="7.52" fill="#e2cadc"/>
<rect x="-2.70" y="191.58" width="8.30" height="7.52" fill="#9496ed"/>
<rect x="5.00" y="191.58" width="8.30" height="7.52" fill="#9496ed"/>
<rect x="12.70" y="191.58" width="8.30" height="7.52" fill="#9496ed"/>
<rect x="20.40" y="191.58" width="8.30" height="7.52" fill="#9496ed"/>
<rect x="28.10" y="191.58" width="8.30" height="7.52" fill="#9496ed"/>
<rect x="35.80" y="191.58" width="8.30" height="7.52" fill="#a3a3ee"/>
<rect x="43.50" y="191.58" width="8.30" height="7.52" fill="#bcb8f0"/>
<rect x="51.20" y="191.58" width="8.30" height="7.52" fill="#7279e6"/>
<rect x="58.90" y="191.58" width="8.30" height="7.52" fill="#bcb8f0"/>
<rect x="66.60" y="191.58" width="8.30" height="7.52" fill="#f08c7c"/>
<rect x="74.30" y="191.58" width="8.30" height="7.52" fill="#e25e4e"/>
<rect x="82.00" y="191.58" width="8.30" height="7.52" fill="#ec7464"/>
<rect x="89.70" y="191.58" width="8.30" height="7.52" fill="#f4a494"/>
<rect x="97.40" y="191.58" width="8.30" height="7.52" fill="#ebb7b8"/>
<rect x="105.10" y="191.58" width="8.30" height="7.52" fill="#cfc1e6"/>
<rect x="112.80" y="191.58" width="8.30" height="7.52" fill="#bcb8f0"/>
<rect x="120.50" y="191.58" width="8.30" height="7.52" fill="#bcb8f0"/>
<rect x="128.20" y="191.58" width="8.30" height="7.52" fill="#a3a3ee"/>
<rect x="135.90" y="191.58" width="8.30" height="7.52" fill="#a3a3ee"/>
<rect x="143.60" y="191.58" width="8.30" height="7.52" fill="#b2b0ef"/>
<rect x="151.30" y="191.58" width="8.30" height="7.52" fill="#bcb8f0"/>
<rect x="159.00" y="191.58" width="8.30" height="7.52" fill="#bcb8f0"/>
<rect x="-2.70" y="198.50" width="8.30" height="7.52" fill="#cfc1e6"/>
<rect x="5.00" y="198.50" width="8.30" height="7.52" fill="#cfc1e6"/>
<rect x="12.70" y="198.50" width="8.30" height="7.52" fill="#cfc1e6"/>
<rect x="20.40" y="198.50" width="8.30" height="7.52" fill="#d7c5e2"/>
<rect x="28.10" y="198.50" width="8.30" height="7.52" fill="#d7c5e2"/>
<rect x="35.80" y="198.50" width="8.30" height="7.52" fill="#ebb7b8"/>
<rect x="43.50" y="198.50" width="8.30" height="7.52" fill="#cfc1e6"/>
<rect x="51.20" y="198.50" width="8.30" height="7.52" fill="#5a64e0"/>
<rect x="58.90" y="198.50" width="8.30" height="7.52" fill="#a3a3ee"/>
<rect x="66.60" y="198.50" width="8.30" height="7.52" fill="#f08c7c"/>
<rect x="74.30" y="198.50" width="8.30" height="7.52" fill="#d84838"/>
<rect x="82.00" y="198.50" width="8.30" height="7.52" fill="#e25e4e"/>
<rect x="89.70" y="198.50" width="8.30" height="7.52" fill="#e2cadc"/>
<rect x="97.40" y="198.50" width="8.30" height="7.52" fill="#bcb8f0"/>
<rect x="105.10" y="198.50" width="8.30" height="7.52" fill="#8a8eec"/>
<rect x="112.80" y="198.50" width="8.30" height="7.52" fill="#8a8eec"/>
<rect x="120.50" y="198.50" width="8.30" height="7.52" fill="#a3a3ee"/>
<rect x="128.20" y="198.50" width="8.30" height="7.52" fill="#8a8eec"/>
<rect x="135.90" y="198.50" width="8.30" height="7.52" fill="#8a8eec"/>
<rect x="143.60" y="198.50" width="8.30" height="7.52" fill="#a3a3ee"/>
<rect x="151.30" y="198.50" width="8.30" height="7.52" fill="#bcb8f0"/>
<rect x="159.00" y="198.50" width="8.30" height="7.52" fill="#bcb8f0"/>
<rect x="-2.70" y="205.42" width="8.30" height="7.52" fill="#a3a3ee"/>
<rect x="5.00" y="205.42" width="8.30" height="7.52" fill="#a3a3ee"/>
<rect x="12.70" y="205.42" width="8.30" height="7.52" fill="#a3a3ee"/>
<rect x="20.40" y="205.42" width="8.30" height="7.52" fill="#a3a3ee"/>
<rect x="28.10" y="205.42" width="8.30" height="7.52" fill="#d7c5e2"/>
<rect x="35.80" y="205.42" width="8.30" height="7.52" fill="#f4a494"/>
<rect x="43.50" y="205.42" width="8.30" height="7.52" fill="#d7c5e2"/>
<rect x="51.20" y="205.42" width="8.30" height="7.52" fill="#7279e6"/>
<rect x="58.90" y="205.42" width="8.30" height="7.52" fill="#bcb8f0"/>
<rect x="66.60" y="205.42" width="8.30" height="7.52" fill="#f4a494"/>
<rect x="74.30" y="205.42" width="8.30" height="7.52" fill="#ec7464"/>
<rect x="82.00" y="205.42" width="8.30" height="7.52" fill="#d84838"/>
<rect x="89.70" y="205.42" width="8.30" height="7.52" fill="#d84838"/>
<rect x="97.40" y="205.42" width="8.30" height="7.52" fill="#e25e4e"/>
<rect x="105.10" y="205.42" width="8.30" height="7.52" fill="#e25e4e"/>
<rect x="112.80" y="205.42" width="8.30" height="7.52" fill="#e25e4e"/>
<rect x="120.50" y="205.42" width="8.30" height="7.52" fill="#ec7464"/>
<rect x="128.20" y="205.42" width="8.30" height="7.52" fill="#f4a494"/>
<rect x="135.90" y="205.42" width="8.30" height="7.52" fill="#e7bfc6"/>
<rect x="143.60" y="205.42" width="8.30" height="7.52" fill="#e2cadc"/>
<rect x="151.30" y="205.42" width="8.30" height="7.52" fill="#cfc1e6"/>
<rect x="159.00" y="205.42" width="8.30" height="7.52" fill="#cfc1e6"/>
<rect x="-2.70" y="212.33" width="8.30" height="7.52" fill="#d7c5e2"/>
<rect x="5.00" y="212.33" width="8.30" height="7.52" fill="#d7c5e2"/>
<rect x="12.70" y="212.33" width="8.30" height="7.52" fill="#d7c5e2"/>
<rect x="20.40" y="212.33" width="8.30" height="7.52" fill="#cfc1e6"/>
<rect x="28.10" y="212.33" width="8.30" height="7.52" fill="#cfc1e6"/>
<rect x="35.80" y="212.33" width="8.30" height="7.52" fill="#c4bcec"/>
<rect x="43.50" y="212.33" width="8.30" height="7.52" fill="#b2b0ef"/>
<rect x="51.20" y="212.33" width="8.30" height="7.52" fill="#8a8eec"/>
<rect x="58.90" y="212.33" width="8.30" height="7.52" fill="#8a8eec"/>
<rect x="66.60" y="212.33" width="8.30" height="7.52" fill="#8a8eec"/>
<rect x="74.30" y="212.33" width="8.30" height="7.52" fill="#a3a3ee"/>
<rect x="82.00" y="212.33" width="8.30" height="7.52" fill="#e25e4e"/>
<rect x="89.70" y="212.33" width="8.30" height="7.52" fill="#e25e4e"/>
<rect x="97.40" y="212.33" width="8.30" height="7.52" fill="#ec7464"/>
<rect x="105.10" y="212.33" width="8.30" height="7.52" fill="#ebb7b8"/>
<rect x="112.80" y="212.33" width="8.30" height="7.52" fill="#ebb7b8"/>
<rect x="120.50" y="212.33" width="8.30" height="7.52" fill="#ebb7b8"/>
<rect x="128.20" y="212.33" width="8.30" height="7.52" fill="#ec7464"/>
<rect x="135.90" y="212.33" width="8.30" height="7.52" fill="#ec7464"/>
<rect x="143.60" y="212.33" width="8.30" height="7.52" fill="#ebb7b8"/>
<rect x="151.30" y="212.33" width="8.30" height="7.52" fill="#e2cadc"/>
<rect x="159.00" y="212.33" width="8.30" height="7.52" fill="#e2cadc"/>
<rect x="-2.70" y="219.25" width="8.30" height="7.52" fill="#f4a494"/>
<rect x="5.00" y="219.25" width="8.30" height="7.52" fill="#f4a494"/>
<rect x="12.70" y="219.25" width="8.30" height="7.52" fill="#f0aca2"/>
<rect x="20.40" y="219.25" width="8.30" height="7.52" fill="#e6c2ce"/>
<rect x="28.10" y="219.25" width="8.30" height="7.52" fill="#e6c2ce"/>
<rect x="35.80" y="219.25" width="8.30" height="7.52" fill="#e2cadc"/>
<rect x="43.50" y="219.25" width="8.30" height="7.52" fill="#e2cadc"/>
<rect x="51.20" y="219.25" width="8.30" height="7.52" fill="#ebb7b8"/>
<rect x="58.90" y="219.25" width="8.30" height="7.52" fill="#d7c5e2"/>
<rect x="66.60" y="219.25" width="8.30" height="7.52" fill="#d7c5e2"/>
<rect x="74.30" y="219.25" width="8.30" height="7.52" fill="#e2cadc"/>
<rect x="82.00" y="219.25" width="8.30" height="7.52" fill="#d84838"/>
<rect x="89.70" y="219.25" width="8.30" height="7.52" fill="#e25e4e"/>
<rect x="97.40" y="219.25" width="8.30" height="7.52" fill="#ec7464"/>
<rect x="105.10" y="219.25" width="8.30" height="7.52" fill="#ec7464"/>
<rect x="112.80" y="219.25" width="8.30" height="7.52" fill="#f4a494"/>
<rect x="120.50" y="219.25" width="8.30" height="7.52" fill="#f4a494"/>
<rect x="128.20" y="219.25" width="8.30" height="7.52" fill="#f08c7c"/>
<rect x="135.90" y="219.25" width="8.30" height="7.52" fill="#f4a494"/>
<rect x="143.60" y="219.25" width="8.30" height="7.52" fill="#ebb7b8"/>
<rect x="151.30" y="219.25" width="8.30" height="7.52" fill="#e7bfc6"/>
<rect x="159.00" y="219.25" width="8.30" height="7.52" fill="#e7bfc6"/>
<rect x="-2.70" y="226.17" width="8.30" height="7.52" fill="#e2cadc"/>
<rect x="5.00" y="226.17" width="8.30" height="7.52" fill="#e2cadc"/>
<rect x="12.70" y="226.17" width="8.30" height="7.52" fill="#e2cadc"/>
<rect x="20.40" y="226.17" width="8.30" height="7.52" fill="#d7c5e2"/>
<rect x="28.10" y="226.17" width="8.30" height="7.52" fill="#cfc1e6"/>
<rect x="35.80" y="226.17" width="8.30" height="7.52" fill="#cfc1e6"/>
<rect x="43.50" y="226.17" width="8.30" height="7.52" fill="#d7c5e2"/>
<rect x="51.20" y="226.17" width="8.30" height="7.52" fill="#d7c5e2"/>
<rect x="58.90" y="226.17" width="8.30" height="7.52" fill="#e2cadc"/>
<rect x="66.60" y="226.17" width="8.30" height="7.52" fill="#e2cadc"/>
<rect x="74.30" y="226.17" width="8.30" height="7.52" fill="#e2cadc"/>
<rect x="82.00" y="226.17" width="8.30" height="7.52" fill="#cfc1e6"/>
<rect x="89.70" y="226.17" width="8.30" height="7.52" fill="#c4bcec"/>
<rect x="97.40" y="226.17" width="8.30" height="7.52" fill="#bcb8f0"/>
<rect x="105.10" y="226.17" width="8.30" height="7.52" fill="#cfc1e6"/>
<rect x="112.80" y="226.17" width="8.30" height="7.52" fill="#e2cadc"/>
<rect x="120.50" y="226.17" width="8.30" height="7.52" fill="#ebb7b8"/>
<rect x="128.20" y="226.17" width="8.30" height="7.52" fill="#f0aca2"/>
<rect x="135.90" y="226.17" width="8.30" height="7.52" fill="#ebb7b8"/>
<rect x="143.60" y="226.17" width="8.30" height="7.52" fill="#e2cadc"/>
<rect x="151.30" y="226.17" width="8.30" height="7.52" fill="#e2cadc"/>
<rect x="159.00" y="226.17" width="8.30" height="7.52" fill="#e2cadc"/>
<rect x="-2.70" y="233.08" width="8.30" height="7.52" fill="#f0aca2"/>
<rect x="5.00" y="233.08" width="8.30" height="7.52" fill="#f0aca2"/>
<rect x="12.70" y="233.08" width="8.30" height="7.52" fill="#ebb7b8"/>
<rect x="20.40" y="233.08" width="8.30" height="7.52" fill="#e7bfc6"/>
<rect x="28.10" y="233.08" width="8.30" height="7.52" fill="#e2cadc"/>
<rect x="35.80" y="233.08" width="8.30" height="7.52" fill="#e7bfc6"/>
<rect x="43.50" y="233.08" width="8.30" height="7.52" fill="#e7bfc6"/>
<rect x="51.20" y="233.08" width="8.30" height="7.52" fill="#e2cadc"/>
<rect x="58.90" y="233.08" width="8.30" height="7.52" fill="#e7bfc6"/>
<rect x="66.60" y="233.08" width="8.30" height="7.52" fill="#ebb7b8"/>
<rect x="74.30" y="233.08" width="8.30" height="7.52" fill="#ebb7b8"/>
<rect x="82.00" y="233.08" width="8.30" height="7.52" fill="#e2cadc"/>
<rect x="89.70" y="233.08" width="8.30" height="7.52" fill="#e2cadc"/>
<rect x="97.40" y="233.08" width="8.30" height="7.52" fill="#e2cadc"/>
<rect x="105.10" y="233.08" width="8.30" height="7.52" fill="#e2cadc"/>
<rect x="112.80" y="233.08" width="8.30" height="7.52" fill="#e7bfc6"/>
<rect x="120.50" y="233.08" width="8.30" height="7.52" fill="#e7bfc6"/>
<rect x="128.20" y="233.08" width="8.30" height="7.52" fill="#ebb7b8"/>
<rect x="135.90" y="233.08" width="8.30" height="7.52" fill="#e7bfc6"/>
<rect x="143.60" y="233.08" width="8.30" height="7.52" fill="#e2cadc"/>
<rect x="151.30" y="233.08" width="8.30" height="7.52" fill="#e2cadc"/>
<rect x="159.00" y="233.08" width="8.30" height="7.52" fill="#e2cadc"/>
<rect x="-2.70" y="240.00" width="8.30" height="7.52" fill="#f0aca2"/>
<rect x="5.00" y="240.00" width="8.30" height="7.52" fill="#f0aca2"/>
<rect x="12.70" y="240.00" width="8.30" height="7.52" fill="#ebb7b8"/>
<rect x="20.40" y="240.00" width="8.30" height="7.52" fill="#e7bfc6"/>
<rect x="28.10" y="240.00" width="8.30" height="7.52" fill="#e2cadc"/>
<rect x="35.80" y="240.00" width="8.30" height="7.52" fill="#e7bfc6"/>
<rect x="43.50" y="240.00" width="8.30" height="7.52" fill="#e7bfc6"/>
<rect x="51.20" y="240.00" width="8.30" height="7.52" fill="#e2cadc"/>
<rect x="58.90" y="240.00" width="8.30" height="7.52" fill="#e7bfc6"/>
<rect x="66.60" y="240.00" width="8.30" height="7.52" fill="#ebb7b8"/>
<rect x="74.30" y="240.00" width="8.30" height="7.52" fill="#ebb7b8"/>
<rect x="82.00" y="240.00" width="8.30" height="7.52" fill="#e2cadc"/>
<rect x="89.70" y="240.00" width="8.30" height="7.52" fill="#e2cadc"/>
<rect x="97.40" y="240.00" width="8.30" height="7.52" fill="#e2cadc"/>
<rect x="105.10" y="240.00" width="8.30" height="7.52" fill="#e2cadc"/>
<rect x="112.80" y="240.00" width="8.30" height="7.52" fill="#e7bfc6"/>
<rect x="120.50" y="240.00" width="8.30" height="7.52" fill="#e7bfc6"/>
<rect x="128.20" y="240.00" width="8.30" height="7.52" fill="#ebb7b8"/>
<rect x="135.90" y="240.00" width="8.30" height="7.52" fill="#e7bfc6"/>
<rect x="143.60" y="240.00" width="8.30" height="7.52" fill="#e2cadc"/>
<rect x="151.30" y="240.00" width="8.30" height="7.52" fill="#e2cadc"/>
<rect x="159.00" y="240.00" width="8.30" height="7.52" fill="#e2cadc"/>
<ellipse cx="89.5" cy="219.5" rx="5" ry="3" fill="#b8281e" fill-opacity="1"/>
</g>
<use href="#coast" transform="translate(82.00 198.50) scale(0.42778 0.69167)"/>
</g>
<filter id="fD" x="-15" y="137" width="194" height="123" filterUnits="userSpaceOnUse"><feGaussianBlur stdDeviation="1.5"/></filter>
<rect x="5.5" y="157.5" width="153" height="82" fill="none" stroke="#404040" stroke-width="1.1"/>
<clipPath id="cE"><rect x="173" y="157" width="154" height="83"/></clipPath>
<g clip-path="url(#cE)"><g filter="url(#fE)">
<rect x="173" y="157" width="154.00" height="83.00" fill="#d6d4f2"/>
<rect x="192.6" y="157" width="15.40" height="8.40" fill="#f8cfc6"/>
<rect x="208" y="159.8" width="7.00" height="5.60" fill="#f8cfc6"/>
<rect x="215" y="157" width="16.80" height="6.30" fill="#f8cfc6"/>
<polygon points="194,163 216,163 216,170 211,176 207,183.6 201,183.6 198,177 195,170" fill="#f8cfc6"/>
<rect x="199" y="168" width="3.00" height="3.50" fill="#d6d4f2"/>
<rect x="209" y="171" width="4.00" height="3.00" fill="#d6d4f2"/>
<rect x="198.2" y="161.2" width="2.10" height="2.80" fill="#e8705c"/>
<rect x="173" y="185" width="154.00" height="1.20" fill="#ecd0d4"/>
<rect x="173" y="184.8" width="23.80" height="1.80" fill="#f8cfc6"/>
<rect x="215" y="184.8" width="23.80" height="1.80" fill="#f8cfc6"/>
<rect x="297" y="184.8" width="30.00" height="1.80" fill="#f8cfc6"/>
<rect x="243.5" y="157" width="24.50" height="3.50" fill="#f8cfc6"/>
<polygon points="268,157 309.5,157 309.5,163 304,168 299,172.7 297,177 295,181 284,181 275,177 268,172.7 266,165" fill="#f8cfc6"/>
<rect x="254" y="169" width="8.60" height="5.40" fill="#f8cfc6"/>
<rect x="314.8" y="157" width="6.90" height="3.50" fill="#f8cfc6"/>
<rect x="280" y="169" width="2.50" height="2.50" fill="#e8705c"/>
<rect x="283" y="171" width="2.50" height="2.00" fill="#e8705c"/>
<rect x="286.5" y="173.5" width="2.50" height="2.50" fill="#e8705c"/>
<rect x="289" y="176.5" width="2.50" height="2.50" fill="#e8705c"/>
<rect x="285" y="177" width="2.00" height="2.50" fill="#e8705c"/>
<rect x="290" y="170" width="2.00" height="2.50" fill="#e8705c"/>
<rect x="281.7" y="173.5" width="2.60" height="2.70" fill="#901010"/>
<rect x="289" y="163" width="2.00" height="2.00" fill="#f09888"/>
<rect x="293.5" y="161.5" width="2.00" height="2.00" fill="#f09888"/>
<rect x="296" y="165" width="2.00" height="2.00" fill="#f09888"/>
<polygon points="299,171 304,169 309,166 311.5,170 311,174 305,177 300,177" fill="#a6aaf0"/>
<polygon points="188,207 214,207 214,213 201,213.5 188,212" fill="#f8cfc6"/>
<polygon points="185,213 201,213 203,216 201,222 185,222" fill="#f8cfc6"/>
<rect x="173" y="221" width="18.50" height="3.00" fill="#f8cfc6"/>
<polygon points="214,195 219,193 222,200 223,210 221,218 219,222 217,222 216,212 214,203" fill="#f8cfc6"/>
<polygon points="224,207 233,206 234,213 229,216 224,214" fill="#f8cfc6"/>
<rect x="215.5" y="201" width="2.50" height="3.50" fill="#e8705c"/>
<rect x="217.5" y="205" width="3.00" height="4.00" fill="#e8705c"/>
<rect x="219" y="209.5" width="3.00" height="4.50" fill="#e8705c"/>
<rect x="218.5" y="214" width="2.00" height="2.00" fill="#e8705c"/>
<polygon points="244,208 256,207.7 264,210 264,214.4 250,214.4 244,213" fill="#a6aaf0"/>
<polygon points="264,213 300,212.5 321.5,214 321.5,221 300,221 264,219.5" fill="#a6aaf0"/>
<rect x="312" y="216.4" width="15.00" height="4.10" fill="#a6aaf0"/>
<rect x="256" y="196" width="12.00" height="12.00" fill="#ead2dc"/>
<polygon points="234,221 260,220 275,223 290,225 327,224.5 327,228.4 290,228.4 260,226.5 234,226" fill="#f8cfc6"/>
<polygon points="300,212.5 313,212.5 314,218 310,222 302,222 300,218" fill="#e8d0dc"/>
<rect x="173" y="211" width="154.00" height="0.90" fill="#e4d4e4"/>
</g>
<use href="#coast" transform="translate(250.00 198.50) scale(0.42778 0.69167)"/>
</g>
<filter id="fE" x="153" y="137" width="194" height="123" filterUnits="userSpaceOnUse"><feGaussianBlur stdDeviation="0.35"/></filter>
<rect x="173.5" y="157.5" width="153" height="82" fill="none" stroke="#404040" stroke-width="1.1"/>
<clipPath id="cF"><rect x="341" y="157" width="154" height="83"/></clipPath>
<g clip-path="url(#cF)"><g filter="url(#fF)">
<rect x="333.30" y="150.08" width="8.30" height="7.52" fill="#d7c5e2"/>
<rect x="341.00" y="150.08" width="8.30" height="7.52" fill="#d7c5e2"/>
<rect x="348.70" y="150.08" width="8.30" height="7.52" fill="#d7c5e2"/>
<rect x="356.40" y="150.08" width="8.30" height="7.52" fill="#d7c5e2"/>
<rect x="364.10" y="150.08" width="8.30" height="7.52" fill="#d7c5e2"/>
<rect x="371.80" y="150.08" width="8.30" height="7.52" fill="#d7c5e2"/>
<rect x="379.50" y="150.08" width="8.30" height="7.52" fill="#e2cadc"/>
<rect x="387.20" y="150.08" width="8.30" height="7.52" fill="#d7c5e2"/>
<rect x="394.90" y="150.08" width="8.30" height="7.52" fill="#cfc1e6"/>
<rect x="402.60" y="150.08" width="8.30" height="7.52" fill="#d7c5e2"/>
<rect x="410.30" y="150.08" width="8.30" height="7.52" fill="#d7c5e2"/>
<rect x="418.00" y="150.08" width="8.30" height="7.52" fill="#d7c5e2"/>
<rect x="425.70" y="150.08" width="8.30" height="7.52" fill="#d7c5e2"/>
<rect x="433.40" y="150.08" width="8.30" height="7.52" fill="#e2cadc"/>
<rect x="441.10" y="150.08" width="8.30" height="7.52" fill="#d7c5e2"/>
<rect x="448.80" y="150.08" width="8.30" height="7.52" fill="#d7c5e2"/>
<rect x="456.50" y="150.08" width="8.30" height="7.52" fill="#d7c5e2"/>
<rect x="464.20" y="150.08" width="8.30" height="7.52" fill="#cfc1e6"/>
<rect x="471.90" y="150.08" width="8.30" height="7.52" fill="#cfc1e6"/>
<rect x="479.60" y="150.08" width="8.30" height="7.52" fill="#bcb8f0"/>
<rect x="487.30" y="150.08" width="8.30" height="7.52" fill="#bcb8f0"/>
<rect x="495.00" y="150.08" width="8.30" height="7.52" fill="#bcb8f0"/>
<rect x="333.30" y="157.00" width="8.30" height="7.52" fill="#d7c5e2"/>
<rect x="341.00" y="157.00" width="8.30" height="7.52" fill="#d7c5e2"/>
<rect x="348.70" y="157.00" width="8.30" height="7.52" fill="#d7c5e2"/>
<rect x="356.40" y="157.00" width="8.30" height="7.52" fill="#d7c5e2"/>
<rect x="364.10" y="157.00" width="8.30" height="7.52" fill="#d7c5e2"/>
<rect x="371.80" y="157.00" width="8.30" height="7.52" fill="#d7c5e2"/>
<rect x="379.50" y="157.00" width="8.30" height="7.52" fill="#e2cadc"/>
<rect x="387.20" y="157.00" width="8.30" height="7.52" fill="#d7c5e2"/>
<rect x="394.90" y="157.00" width="8.30" height="7.52" fill="#cfc1e6"/>
<rect x="402.60" y="157.00" width="8.30" height="7.52" fill="#d7c5e2"/>
<rect x="410.30" y="157.00" width="8.30" height="7.52" fill="#d7c5e2"/>
<rect x="418.00" y="157.00" width="8.30" height="7.52" fill="#d7c5e2"/>
<rect x="425.70" y="157.00" width="8.30" height="7.52" fill="#d7c5e2"/>
<rect x="433.40" y="157.00" width="8.30" height="7.52" fill="#e2cadc"/>
<rect x="441.10" y="157.00" width="8.30" height="7.52" fill="#d7c5e2"/>
<rect x="448.80" y="157.00" width="8.30" height="7.52" fill="#d7c5e2"/>
<rect x="456.50" y="157.00" width="8.30" height="7.52" fill="#d7c5e2"/>
<rect x="464.20" y="157.00" width="8.30" height="7.52" fill="#cfc1e6"/>
<rect x="471.90" y="157.00" width="8.30" height="7.52" fill="#cfc1e6"/>
<rect x="479.60" y="157.00" width="8.30" height="7.52" fill="#bcb8f0"/>
<rect x="487.30" y="157.00" width="8.30" height="7.52" fill="#bcb8f0"/>
<rect x="495.00" y="157.00" width="8.30" height="7.52" fill="#bcb8f0"/>
<rect x="333.30" y="163.92" width="8.30" height="7.52" fill="#e2cadc"/>
<rect x="341.00" y="163.92" width="8.30" height="7.52" fill="#e2cadc"/>
<rect x="348.70" y="163.92" width="8.30" height="7.52" fill="#e2cadc"/>
<rect x="356.40" y="163.92" width="8.30" height="7.52" fill="#e2cadc"/>
<rect x="364.10" y="163.92" width="8.30" height="7.52" fill="#ebb7b8"/>
<rect x="371.80" y="163.92" width="8.30" height="7.52" fill="#f0aca2"/>
<rect x="379.50" y="163.92" width="8.30" height="7.52" fill="#ebb7b8"/>
<rect x="387.20" y="163.92" width="8.30" height="7.52" fill="#e2cadc"/>
<rect x="394.90" y="163.92" width="8.30" height="7.52" fill="#d7c5e2"/>
<rect x="402.60" y="163.92" width="8.30" height="7.52" fill="#d7c5e2"/>
<rect x="410.30" y="163.92" width="8.30" height="7.52" fill="#d7c5e2"/>
<rect x="418.00" y="163.92" width="8.30" height="7.52" fill="#e2cadc"/>
<rect x="425.70" y="163.92" width="8.30" height="7.52" fill="#ebb7b8"/>
<rect x="433.40" y="163.92" width="8.30" height="7.52" fill="#f0aca2"/>
<rect x="441.10" y="163.92" width="8.30" height="7.52" fill="#ebb7b8"/>
<rect x="448.80" y="163.92" width="8.30" height="7.52" fill="#f0aca2"/>
<rect x="456.50" y="163.92" width="8.30" height="7.52" fill="#f4a494"/>
<rect x="464.20" y="163.92" width="8.30" height="7.52" fill="#e7bfc6"/>
<rect x="471.90" y="163.92" width="8.30" height="7.52" fill="#d7c5e2"/>
<rect x="479.60" y="163.92" width="8.30" height="7.52" fill="#bcb8f0"/>
<rect x="487.30" y="163.92" width="8.30" height="7.52" fill="#c4bcec"/>
<rect x="495.00" y="163.92" width="8.30" height="7.52" fill="#c4bcec"/>
<rect x="333.30" y="170.83" width="8.30" height="7.52" fill="#e7bfc6"/>
<rect x="341.00" y="170.83" width="8.30" height="7.52" fill="#e7bfc6"/>
<rect x="348.70" y="170.83" width="8.30" height="7.52" fill="#e7bfc6"/>
<rect x="356.40" y="170.83" width="8.30" height="7.52" fill="#e7bfc6"/>
<rect x="364.10" y="170.83" width="8.30" height="7.52" fill="#ebb7b8"/>
<rect x="371.80" y="170.83" width="8.30" height="7.52" fill="#e7bfc6"/>
<rect x="379.50" y="170.83" width="8.30" height="7.52" fill="#e2cadc"/>
<rect x="387.20" y="170.83" width="8.30" height="7.52" fill="#e2cadc"/>
<rect x="394.90" y="170.83" width="8.30" height="7.52" fill="#e2cadc"/>
<rect x="402.60" y="170.83" width="8.30" height="7.52" fill="#e7bfc6"/>
<rect x="410.30" y="170.83" width="8.30" height="7.52" fill="#ebb7b8"/>
<rect x="418.00" y="170.83" width="8.30" height="7.52" fill="#f0aca2"/>
<rect x="425.70" y="170.83" width="8.30" height="7.52" fill="#f29a8a"/>
<rect x="433.40" y="170.83" width="8.30" height="7.52" fill="#f29a8a"/>
<rect x="441.10" y="170.83" width="8.30" height="7.52" fill="#f0aca2"/>
<rect x="448.80" y="170.83" width="8.30" height="7.52" fill="#ebb7b8"/>
<rect x="456.50" y="170.83" width="8.30" height="7.52" fill="#f4a494"/>
<rect x="464.20" y="170.83" width="8.30" height="7.52" fill="#e7bfc6"/>
<rect x="471.90" y="170.83" width="8.30" height="7.52" fill="#e2cadc"/>
<rect x="479.60" y="170.83" width="8.30" height="7.52" fill="#e7bfc6"/>
<rect x="487.30" y="170.83" width="8.30" height="7.52" fill="#e7bfc6"/>
<rect x="495.00" y="170.83" width="8.30" height="7.52" fill="#e7bfc6"/>
<rect x="333.30" y="177.75" width="8.30" height="7.52" fill="#ec7464"/>
<rect x="341.00" y="177.75" width="8.30" height="7.52" fill="#ec7464"/>
<rect x="348.70" y="177.75" width="8.30" height="7.52" fill="#ec7464"/>
<rect x="356.40" y="177.75" width="8.30" height="7.52" fill="#ec7464"/>
<rect x="364.10" y="177.75" width="8.30" height="7.52" fill="#f08c7c"/>
<rect x="371.80" y="177.75" width="8.30" height="7.52" fill="#e7bfc6"/>
<rect x="379.50" y="177.75" width="8.30" height="7.52" fill="#e2cadc"/>
<rect x="387.20" y="177.75" width="8.30" height="7.52" fill="#e2cadc"/>
<rect x="394.90" y="177.75" width="8.30" height="7.52" fill="#f08c7c"/>
<rect x="402.60" y="177.75" width="8.30" height="7.52" fill="#d84838"/>
<rect x="410.30" y="177.75" width="8.30" height="7.52" fill="#ec7464"/>
<rect x="418.00" y="177.75" width="8.30" height="7.52" fill="#f4a494"/>
<rect x="425.70" y="177.75" width="8.30" height="7.52" fill="#f29a8a"/>
<rect x="433.40" y="177.75" width="8.30" height="7.52" fill="#f29a8a"/>
<rect x="441.10" y="177.75" width="8.30" height="7.52" fill="#f29a8a"/>
<rect x="448.80" y="177.75" width="8.30" height="7.52" fill="#f08c7c"/>
<rect x="456.50" y="177.75" width="8.30" height="7.52" fill="#e2cadc"/>
<rect x="464.20" y="177.75" width="8.30" height="7.52" fill="#e2cadc"/>
<rect x="471.90" y="177.75" width="8.30" height="7.52" fill="#ebb7b8"/>
<rect x="479.60" y="177.75" width="8.30" height="7.52" fill="#f0aca2"/>
<rect x="487.30" y="177.75" width="8.30" height="7.52" fill="#ebb7b8"/>
<rect x="495.00" y="177.75" width="8.30" height="7.52" fill="#ebb7b8"/>
<rect x="333.30" y="184.67" width="8.30" height="7.52" fill="#e7bfc6"/>
<rect x="341.00" y="184.67" width="8.30" height="7.52" fill="#e7bfc6"/>
<rect x="348.70" y="184.67" width="8.30" height="7.52" fill="#e2cadc"/>
<rect x="356.40" y="184.67" width="8.30" height="7.52" fill="#e2cadc"/>
<rect x="364.10" y="184.67" width="8.30" height="7.52" fill="#d7c5e2"/>
<rect x="371.80" y="184.67" width="8.30" height="7.52" fill="#d7c5e2"/>
<rect x="379.50" y="184.67" width="8.30" height="7.52" fill="#e2cadc"/>
<rect x="387.20" y="184.67" width="8.30" height="7.52" fill="#e2cadc"/>
<rect x="394.90" y="184.67" width="8.30" height="7.52" fill="#e7bfc6"/>
<rect x="402.60" y="184.67" width="8.30" height="7.52" fill="#f0aca2"/>
<rect x="410.30" y="184.67" width="8.30" height="7.52" fill="#f29a8a"/>
<rect x="418.00" y="184.67" width="8.30" height="7.52" fill="#f08c7c"/>
<rect x="425.70" y="184.67" width="8.30" height="7.52" fill="#f29a8a"/>
<rect x="433.40" y="184.67" width="8.30" height="7.52" fill="#f4a494"/>
<rect x="441.10" y="184.67" width="8.30" height="7.52" fill="#ebb7b8"/>
<rect x="448.80" y="184.67" width="8.30" height="7.52" fill="#e2cadc"/>
<rect x="456.50" y="184.67" width="8.30" height="7.52" fill="#d7c5e2"/>
<rect x="464.20" y="184.67" width="8.30" height="7.52" fill="#d7c5e2"/>
<rect x="471.90" y="184.67" width="8.30" height="7.52" fill="#e2cadc"/>
<rect x="479.60" y="184.67" width="8.30" height="7.52" fill="#e2cadc"/>
<rect x="487.30" y="184.67" width="8.30" height="7.52" fill="#e2cadc"/>
<rect x="495.00" y="184.67" width="8.30" height="7.52" fill="#e2cadc"/>
<rect x="333.30" y="191.58" width="8.30" height="7.52" fill="#bcb8f0"/>
<rect x="341.00" y="191.58" width="8.30" height="7.52" fill="#bcb8f0"/>
<rect x="348.70" y="191.58" width="8.30" height="7.52" fill="#a3a3ee"/>
<rect x="356.40" y="191.58" width="8.30" height="7.52" fill="#a3a3ee"/>
<rect x="364.10" y="191.58" width="8.30" height="7.52" fill="#b2b0ef"/>
<rect x="371.80" y="191.58" width="8.30" height="7.52" fill="#c4bcec"/>
<rect x="379.50" y="191.58" width="8.30" height="7.52" fill="#cfc1e6"/>
<rect x="387.20" y="191.58" width="8.30" height="7.52" fill="#b2b0ef"/>
<rect x="394.90" y="191.58" width="8.30" height="7.52" fill="#cfc1e6"/>
<rect x="402.60" y="191.58" width="8.30" height="7.52" fill="#f0aca2"/>
<rect x="410.30" y="191.58" width="8.30" height="7.52" fill="#f08c7c"/>
<rect x="418.00" y="191.58" width="8.30" height="7.52" fill="#f29a8a"/>
<rect x="425.70" y="191.58" width="8.30" height="7.52" fill="#ebb7b8"/>
<rect x="433.40" y="191.58" width="8.30" height="7.52" fill="#e2cadc"/>
<rect x="441.10" y="191.58" width="8.30" height="7.52" fill="#cfc1e6"/>
<rect x="448.80" y="191.58" width="8.30" height="7.52" fill="#c4bcec"/>
<rect x="456.50" y="191.58" width="8.30" height="7.52" fill="#bcb8f0"/>
<rect x="464.20" y="191.58" width="8.30" height="7.52" fill="#bcb8f0"/>
<rect x="471.90" y="191.58" width="8.30" height="7.52" fill="#bcb8f0"/>
<rect x="479.60" y="191.58" width="8.30" height="7.52" fill="#c4bcec"/>
<rect x="487.30" y="191.58" width="8.30" height="7.52" fill="#c4bcec"/>
<rect x="495.00" y="191.58" width="8.30" height="7.52" fill="#c4bcec"/>
<rect x="333.30" y="198.50" width="8.30" height="7.52" fill="#d7c5e2"/>
<rect x="341.00" y="198.50" width="8.30" height="7.52" fill="#d7c5e2"/>
<rect x="348.70" y="198.50" width="8.30" height="7.52" fill="#cfc1e6"/>
<rect x="356.40" y="198.50" width="8.30" height="7.52" fill="#d7c5e2"/>
<rect x="364.10" y="198.50" width="8.30" height="7.52" fill="#d7c5e2"/>
<rect x="371.80" y="198.50" width="8.30" height="7.52" fill="#d7c5e2"/>
<rect x="379.50" y="198.50" width="8.30" height="7.52" fill="#cfc1e6"/>
<rect x="387.20" y="198.50" width="8.30" height="7.52" fill="#a3a3ee"/>
<rect x="394.90" y="198.50" width="8.30" height="7.52" fill="#c4bcec"/>
<rect x="402.60" y="198.50" width="8.30" height="7.52" fill="#f4a494"/>
<rect x="410.30" y="198.50" width="8.30" height="7.52" fill="#f08c7c"/>
<rect x="418.00" y="198.50" width="8.30" height="7.52" fill="#f08c7c"/>
<rect x="425.70" y="198.50" width="8.30" height="7.52" fill="#e2cadc"/>
<rect x="433.40" y="198.50" width="8.30" height="7.52" fill="#c4bcec"/>
<rect x="441.10" y="198.50" width="8.30" height="7.52" fill="#a3a3ee"/>
<rect x="448.80" y="198.50" width="8.30" height="7.52" fill="#a3a3ee"/>
<rect x="456.50" y="198.50" width="8.30" height="7.52" fill="#b2b0ef"/>
<rect x="464.20" y="198.50" width="8.30" height="7.52" fill="#a3a3ee"/>
<rect x="471.90" y="198.50" width="8.30" height="7.52" fill="#a3a3ee"/>
<rect x="479.60" y="198.50" width="8.30" height="7.52" fill="#bcb8f0"/>
<rect x="487.30" y="198.50" width="8.30" height="7.52" fill="#c4bcec"/>
<rect x="495.00" y="198.50" width="8.30" height="7.52" fill="#c4bcec"/>
<rect x="333.30" y="205.42" width="8.30" height="7.52" fill="#b2b0ef"/>
<rect x="341.00" y="205.42" width="8.30" height="7.52" fill="#b2b0ef"/>
<rect x="348.70" y="205.42" width="8.30" height="7.52" fill="#b2b0ef"/>
<rect x="356.40" y="205.42" width="8.30" height="7.52" fill="#bcb8f0"/>
<rect x="364.10" y="205.42" width="8.30" height="7.52" fill="#e7bfc6"/>
<rect x="371.80" y="205.42" width="8.30" height="7.52" fill="#f0aca2"/>
<rect x="379.50" y="205.42" width="8.30" height="7.52" fill="#d7c5e2"/>
<rect x="387.20" y="205.42" width="8.30" height="7.52" fill="#bcb8f0"/>
<rect x="394.90" y="205.42" width="8.30" height="7.52" fill="#cfc1e6"/>
<rect x="402.60" y="205.42" width="8.30" height="7.52" fill="#f0aca2"/>
<rect x="410.30" y="205.42" width="8.30" height="7.52" fill="#f4a494"/>
<rect x="418.00" y="205.42" width="8.30" height="7.52" fill="#ec7464"/>
<rect x="425.70" y="205.42" width="8.30" height="7.52" fill="#ec7464"/>
<rect x="433.40" y="205.42" width="8.30" height="7.52" fill="#f08c7c"/>
<rect x="441.10" y="205.42" width="8.30" height="7.52" fill="#f29a8a"/>
<rect x="448.80" y="205.42" width="8.30" height="7.52" fill="#f29a8a"/>
<rect x="456.50" y="205.42" width="8.30" height="7.52" fill="#f0aca2"/>
<rect x="464.20" y="205.42" width="8.30" height="7.52" fill="#e7bfc6"/>
<rect x="471.90" y="205.42" width="8.30" height="7.52" fill="#e2cadc"/>
<rect x="479.60" y="205.42" width="8.30" height="7.52" fill="#cfc1e6"/>
<rect x="487.30" y="205.42" width="8.30" height="7.52" fill="#c4bcec"/>
<rect x="495.00" y="205.42" width="8.30" height="7.52" fill="#c4bcec"/>
<rect x="333.30" y="212.33" width="8.30" height="7.52" fill="#e2cadc"/>
<rect x="341.00" y="212.33" width="8.30" height="7.52" fill="#e2cadc"/>
<rect x="348.70" y="212.33" width="8.30" height="7.52" fill="#e2cadc"/>
<rect x="356.40" y="212.33" width="8.30" height="7.52" fill="#d7c5e2"/>
<rect x="364.10" y="212.33" width="8.30" height="7.52" fill="#d7c5e2"/>
<rect x="371.80" y="212.33" width="8.30" height="7.52" fill="#cfc1e6"/>
<rect x="379.50" y="212.33" width="8.30" height="7.52" fill="#c4bcec"/>
<rect x="387.20" y="212.33" width="8.30" height="7.52" fill="#bcb8f0"/>
<rect x="394.90" y="212.33" width="8.30" height="7.52" fill="#bcb8f0"/>
<rect x="402.60" y="212.33" width="8.30" height="7.52" fill="#b2b0ef"/>
<rect x="410.30" y="212.33" width="8.30" height="7.52" fill="#bcb8f0"/>
<rect x="418.00" y="212.33" width="8.30" height="7.52" fill="#f08c7c"/>
<rect x="425.70" y="212.33" width="8.30" height="7.52" fill="#ebb7b8"/>
<rect x="433.40" y="212.33" width="8.30" height="7.52" fill="#e7bfc6"/>
<rect x="441.10" y="212.33" width="8.30" height="7.52" fill="#e2cadc"/>
<rect x="448.80" y="212.33" width="8.30" height="7.52" fill="#e2cadc"/>
<rect x="456.50" y="212.33" width="8.30" height="7.52" fill="#e2cadc"/>
<rect x="464.20" y="212.33" width="8.30" height="7.52" fill="#ec7464"/>
<rect x="471.90" y="212.33" width="8.30" height="7.52" fill="#f08c7c"/>
<rect x="479.60" y="212.33" width="8.30" height="7.52" fill="#e7bfc6"/>
<rect x="487.30" y="212.33" width="8.30" height="7.52" fill="#e2cadc"/>
<rect x="495.00" y="212.33" width="8.30" height="7.52" fill="#e2cadc"/>
<rect x="333.30" y="219.25" width="8.30" height="7.52" fill="#e7bfc6"/>
<rect x="341.00" y="219.25" width="8.30" height="7.52" fill="#e7bfc6"/>
<rect x="348.70" y="219.25" width="8.30" height="7.52" fill="#e7bfc6"/>
<rect x="356.40" y="219.25" width="8.30" height="7.52" fill="#e2cadc"/>
<rect x="364.10" y="219.25" width="8.30" height="7.52" fill="#e2cadc"/>
<rect x="371.80" y="219.25" width="8.30" height="7.52" fill="#e2cadc"/>
<rect x="379.50" y="219.25" width="8.30" height="7.52" fill="#d7c5e2"/>
<rect x="387.20" y="219.25" width="8.30" height="7.52" fill="#ebb7b8"/>
<rect x="394.90" y="219.25" width="8.30" height="7.52" fill="#e2cadc"/>
<rect x="402.60" y="219.25" width="8.30" height="7.52" fill="#e2cadc"/>
<rect x="410.30" y="219.25" width="8.30" height="7.52" fill="#e2cadc"/>
<rect x="418.00" y="219.25" width="8.30" height="7.52" fill="#ebb7b8"/>
<rect x="425.70" y="219.25" width="8.30" height="7.52" fill="#d7c5e2"/>
<rect x="433.40" y="219.25" width="8.30" height="7.52" fill="#cfc1e6"/>
<rect x="441.10" y="219.25" width="8.30" height="7.52" fill="#c4bcec"/>
<rect x="448.80" y="219.25" width="8.30" height="7.52" fill="#d7c5e2"/>
<rect x="456.50" y="219.25" width="8.30" height="7.52" fill="#e2cadc"/>
<rect x="464.20" y="219.25" width="8.30" height="7.52" fill="#ebb7b8"/>
<rect x="471.90" y="219.25" width="8.30" height="7.52" fill="#e7bfc6"/>
<rect x="479.60" y="219.25" width="8.30" height="7.52" fill="#e2cadc"/>
<rect x="487.30" y="219.25" width="8.30" height="7.52" fill="#e2cadc"/>
<rect x="495.00" y="219.25" width="8.30" height="7.52" fill="#e2cadc"/>
<rect x="333.30" y="226.17" width="8.30" height="7.52" fill="#e2cadc"/>
<rect x="341.00" y="226.17" width="8.30" height="7.52" fill="#e2cadc"/>
<rect x="348.70" y="226.17" width="8.30" height="7.52" fill="#e2cadc"/>
<rect x="356.40" y="226.17" width="8.30" height="7.52" fill="#d7c5e2"/>
<rect x="364.10" y="226.17" width="8.30" height="7.52" fill="#d7c5e2"/>
<rect x="371.80" y="226.17" width="8.30" height="7.52" fill="#e2cadc"/>
<rect x="379.50" y="226.17" width="8.30" height="7.52" fill="#e2cadc"/>
<rect x="387.20" y="226.17" width="8.30" height="7.52" fill="#e2cadc"/>
<rect x="394.90" y="226.17" width="8.30" height="7.52" fill="#e2cadc"/>
<rect x="402.60" y="226.17" width="8.30" height="7.52" fill="#e2cadc"/>
<rect x="410.30" y="226.17" width="8.30" height="7.52" fill="#e2cadc"/>
<rect x="418.00" y="226.17" width="8.30" height="7.52" fill="#e2cadc"/>
<rect x="425.70" y="226.17" width="8.30" height="7.52" fill="#e2cadc"/>
<rect x="433.40" y="226.17" width="8.30" height="7.52" fill="#e2cadc"/>
<rect x="441.10" y="226.17" width="8.30" height="7.52" fill="#e2cadc"/>
<rect x="448.80" y="226.17" width="8.30" height="7.52" fill="#e2cadc"/>
<rect x="456.50" y="226.17" width="8.30" height="7.52" fill="#e7bfc6"/>
<rect x="464.20" y="226.17" width="8.30" height="7.52" fill="#e7bfc6"/>
<rect x="471.90" y="226.17" width="8.30" height="7.52" fill="#e2cadc"/>
<rect x="479.60" y="226.17" width="8.30" height="7.52" fill="#e2cadc"/>
<rect x="487.30" y="226.17" width="8.30" height="7.52" fill="#e2cadc"/>
<rect x="495.00" y="226.17" width="8.30" height="7.52" fill="#e2cadc"/>
<rect x="333.30" y="233.08" width="8.30" height="7.52" fill="#e7bfc6"/>
<rect x="341.00" y="233.08" width="8.30" height="7.52" fill="#e7bfc6"/>
<rect x="348.70" y="233.08" width="8.30" height="7.52" fill="#e7bfc6"/>
<rect x="356.40" y="233.08" width="8.30" height="7.52" fill="#e2cadc"/>
<rect x="364.10" y="233.08" width="8.30" height="7.52" fill="#e2cadc"/>
<rect x="371.80" y="233.08" width="8.30" height="7.52" fill="#e2cadc"/>
<rect x="379.50" y="233.08" width="8.30" height="7.52" fill="#e2cadc"/>
<rect x="387.20" y="233.08" width="8.30" height="7.52" fill="#e2cadc"/>
<rect x="394.90" y="233.08" width="8.30" height="7.52" fill="#e7bfc6"/>
<rect x="402.60" y="233.08" width="8.30" height="7.52" fill="#e7bfc6"/>
<rect x="410.30" y="233.08" width="8.30" height="7.52" fill="#e2cadc"/>
<rect x="418.00" y="233.08" width="8.30" height="7.52" fill="#e2cadc"/>
<rect x="425.70" y="233.08" width="8.30" height="7.52" fill="#e2cadc"/>
<rect x="433.40" y="233.08" width="8.30" height="7.52" fill="#e2cadc"/>
<rect x="441.10" y="233.08" width="8.30" height="7.52" fill="#e2cadc"/>
<rect x="448.80" y="233.08" width="8.30" height="7.52" fill="#e2cadc"/>
<rect x="456.50" y="233.08" width="8.30" height="7.52" fill="#e7bfc6"/>
<rect x="464.20" y="233.08" width="8.30" height="7.52" fill="#e2cadc"/>
<rect x="471.90" y="233.08" width="8.30" height="7.52" fill="#e2cadc"/>
<rect x="479.60" y="233.08" width="8.30" height="7.52" fill="#e2cadc"/>
<rect x="487.30" y="233.08" width="8.30" height="7.52" fill="#e2cadc"/>
<rect x="495.00" y="233.08" width="8.30" height="7.52" fill="#e2cadc"/>
<rect x="333.30" y="240.00" width="8.30" height="7.52" fill="#e7bfc6"/>
<rect x="341.00" y="240.00" width="8.30" height="7.52" fill="#e7bfc6"/>
<rect x="348.70" y="240.00" width="8.30" height="7.52" fill="#e7bfc6"/>
<rect x="356.40" y="240.00" width="8.30" height="7.52" fill="#e2cadc"/>
<rect x="364.10" y="240.00" width="8.30" height="7.52" fill="#e2cadc"/>
<rect x="371.80" y="240.00" width="8.30" height="7.52" fill="#e2cadc"/>
<rect x="379.50" y="240.00" width="8.30" height="7.52" fill="#e2cadc"/>
<rect x="387.20" y="240.00" width="8.30" height="7.52" fill="#e2cadc"/>
<rect x="394.90" y="240.00" width="8.30" height="7.52" fill="#e7bfc6"/>
<rect x="402.60" y="240.00" width="8.30" height="7.52" fill="#e7bfc6"/>
<rect x="410.30" y="240.00" width="8.30" height="7.52" fill="#e2cadc"/>
<rect x="418.00" y="240.00" width="8.30" height="7.52" fill="#e2cadc"/>
<rect x="425.70" y="240.00" width="8.30" height="7.52" fill="#e2cadc"/>
<rect x="433.40" y="240.00" width="8.30" height="7.52" fill="#e2cadc"/>
<rect x="441.10" y="240.00" width="8.30" height="7.52" fill="#e2cadc"/>
<rect x="448.80" y="240.00" width="8.30" height="7.52" fill="#e2cadc"/>
<rect x="456.50" y="240.00" width="8.30" height="7.52" fill="#e7bfc6"/>
<rect x="464.20" y="240.00" width="8.30" height="7.52" fill="#e2cadc"/>
<rect x="471.90" y="240.00" width="8.30" height="7.52" fill="#e2cadc"/>
<rect x="479.60" y="240.00" width="8.30" height="7.52" fill="#e2cadc"/>
<rect x="487.30" y="240.00" width="8.30" height="7.52" fill="#e2cadc"/>
<rect x="495.00" y="240.00" width="8.30" height="7.52" fill="#e2cadc"/>
<ellipse cx="426.5" cy="218" rx="4" ry="3" fill="#d04032" fill-opacity="1"/>
<ellipse cx="446" cy="218" rx="6" ry="2.5" fill="#e86b5b" fill-opacity="1"/>
</g>
<use href="#coast" transform="translate(418.00 198.50) scale(0.42778 0.69167)"/>
</g>
<filter id="fF" x="321" y="137" width="194" height="123" filterUnits="userSpaceOnUse"><feGaussianBlur stdDeviation="1.5"/></filter>
<rect x="341.5" y="157.5" width="153" height="82" fill="none" stroke="#404040" stroke-width="1.1"/>
<polygon points="187,119 187,123.3 181,121.15" fill="#0a1450"/>
<rect x="187.00" y="119" width="12.90" height="4.299999999999997" fill="#1e44bc"/>
<rect x="199.60" y="119" width="12.90" height="4.299999999999997" fill="#5a6ae8"/>
<rect x="212.20" y="119" width="12.90" height="4.299999999999997" fill="#9090f4"/>
<rect x="224.80" y="119" width="12.90" height="4.299999999999997" fill="#c8c4f8"/>
<rect x="237.40" y="119" width="12.90" height="4.299999999999997" fill="#f4e6ec"/>
<rect x="250.00" y="119" width="12.90" height="4.299999999999997" fill="#fab4a8"/>
<rect x="262.60" y="119" width="12.90" height="4.299999999999997" fill="#f87c64"/>
<rect x="275.20" y="119" width="12.90" height="4.299999999999997" fill="#e04030"/>
<rect x="287.80" y="119" width="12.90" height="4.299999999999997" fill="#ac0010"/>
<rect x="300.40" y="119" width="12.90" height="4.299999999999997" fill="#6a0400"/>
<polygon points="313,119 313,123.3 318,121.15" fill="#ffffff"/>
<polygon points="187,119 313,119 318,121.15 313,123.3 187,123.3 181,121.15" fill="none" stroke="#333" stroke-width="0.6"/>
<line x1="187.00" y1="123.3" x2="187.00" y2="125.3" stroke="#333" stroke-width="0.6"/>
<line x1="199.60" y1="123.3" x2="199.60" y2="125.3" stroke="#333" stroke-width="0.6"/>
<line x1="212.20" y1="123.3" x2="212.20" y2="125.3" stroke="#333" stroke-width="0.6"/>
<line x1="224.80" y1="123.3" x2="224.80" y2="125.3" stroke="#333" stroke-width="0.6"/>
<line x1="237.40" y1="123.3" x2="237.40" y2="125.3" stroke="#333" stroke-width="0.6"/>
<line x1="250.00" y1="123.3" x2="250.00" y2="125.3" stroke="#333" stroke-width="0.6"/>
<line x1="262.60" y1="123.3" x2="262.60" y2="125.3" stroke="#333" stroke-width="0.6"/>
<line x1="275.20" y1="123.3" x2="275.20" y2="125.3" stroke="#333" stroke-width="0.6"/>
<line x1="287.80" y1="123.3" x2="287.80" y2="125.3" stroke="#333" stroke-width="0.6"/>
<line x1="300.40" y1="123.3" x2="300.40" y2="125.3" stroke="#333" stroke-width="0.6"/>
<line x1="313.00" y1="123.3" x2="313.00" y2="125.3" stroke="#333" stroke-width="0.6"/>
</svg>
<div class="t" style="left:-18px;top:4px;font-size:12px;">NP L2</div><div class="t" style="left:150px;top:4px;font-size:12px;">COL</div><div class="t" style="left:318px;top:4px;font-size:12px;">ALL</div><div class="t" style="left:99.6px;top:127px;font-size:8px;">&minus;4</div><div class="t" style="left:124.80000000000001px;top:127px;font-size:8px;">&minus;2</div><div class="t" style="left:150.0px;top:127px;font-size:8px;">0</div><div class="t" style="left:175.2px;top:127px;font-size:8px;">2</div><div class="t" style="left:200.39999999999998px;top:127px;font-size:8px;">4</div><div class="t" style="left:151px;top:137px;font-size:12px;">&Delta; IPD [DU]</div>
</body></html>
